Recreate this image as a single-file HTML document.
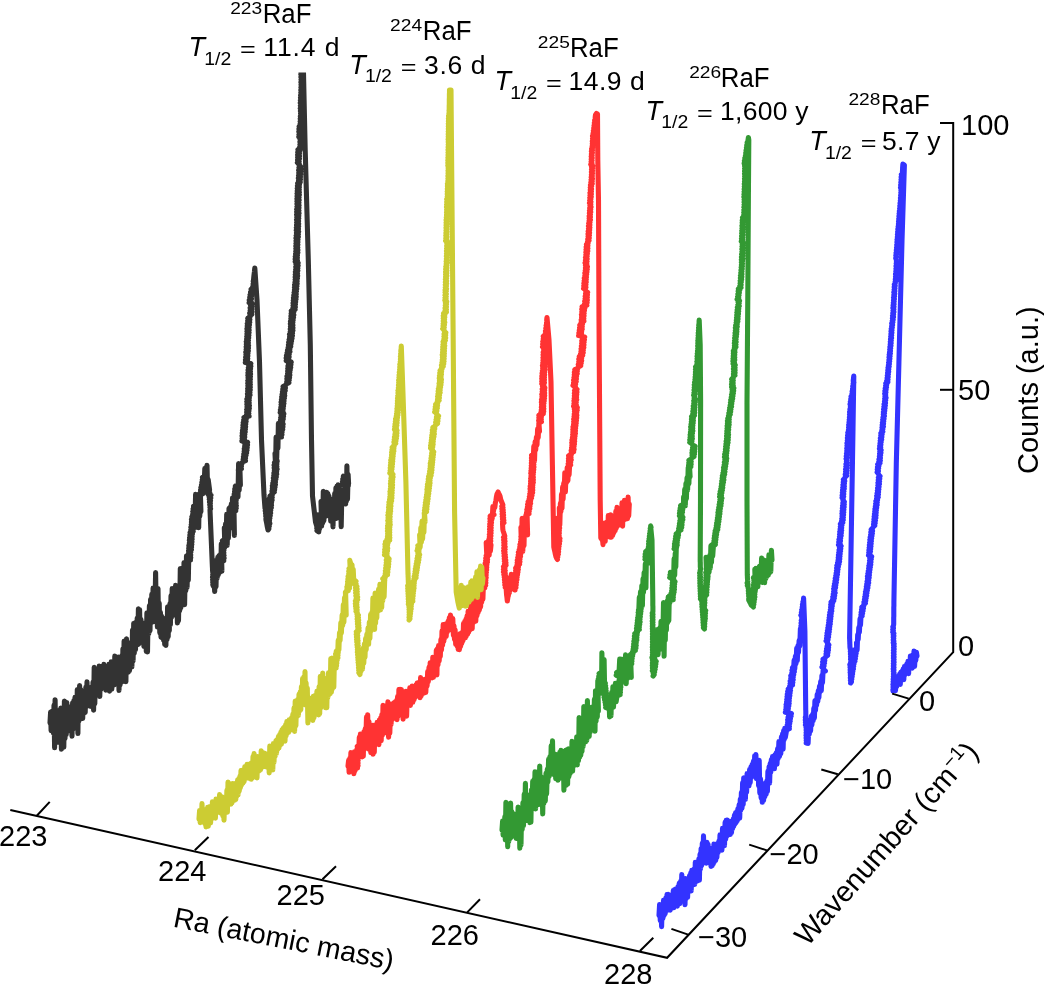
<!DOCTYPE html>
<html><head><meta charset="utf-8"><title>RaF spectra</title>
<style>html,body{margin:0;padding:0;background:#fff;width:1044px;height:984px;overflow:hidden}svg{display:block}</style>
</head><body>
<svg width="1044" height="984" viewBox="0 0 1044 984" font-family="'Liberation Sans', Arial, Helvetica, sans-serif" fill="#000">
<defs><clipPath id="clipTop"><rect x="0" y="72.6" width="1044" height="912"/></clipPath></defs>
<rect width="1044" height="984" fill="#fff"/>
<polyline points="50.0,723.0 50.6,712.2 51.1,730.6 51.7,711.5 52.3,730.0 52.9,711.0 53.4,733.1 54.0,705.3 54.6,747.6 55.1,699.8 55.7,742.0 56.2,712.2 56.8,739.7 57.4,710.6 57.9,742.2 58.5,715.3 59.1,739.8 59.7,718.4 60.2,742.7 60.8,708.0 61.4,749.3 62.0,720.7 62.6,745.3 63.2,714.6 63.8,747.2 64.4,701.0 65.0,738.5 65.6,711.8 66.2,734.7 66.8,702.5 67.3,731.4 67.9,711.1 68.5,724.5 69.1,711.2 69.7,726.1 70.2,706.7 70.8,728.4 71.4,706.7 72.0,736.1 72.6,702.8 73.2,729.0 73.8,700.7 74.4,725.0 75.0,697.2 75.6,721.2 76.2,697.2 76.7,721.1 77.3,689.6 77.9,733.4 78.4,690.2 79.0,720.9 79.6,685.5 80.2,719.0 80.8,689.5 81.5,716.1 82.1,694.6 82.7,718.5 83.3,693.9 83.9,713.2 84.5,692.3 85.2,712.5 85.8,687.4 86.4,706.4 87.0,681.9 87.6,702.2 88.2,687.8 88.8,705.2 89.3,687.7 89.9,706.2 90.5,689.6 91.1,706.5 91.7,687.0 92.3,705.2 93.0,682.2 93.6,710.1 94.2,667.2 94.8,703.7 95.4,673.5 96.0,695.1 96.7,670.7 97.3,691.7 97.9,671.1 98.5,694.3 99.2,666.1 99.8,696.5 100.4,668.3 101.0,689.2 101.5,668.2 102.1,685.2 102.7,666.1 103.3,681.7 103.9,664.3 104.5,683.4 105.2,668.4 105.8,690.2 106.4,667.9 107.0,686.1 107.7,669.8 108.3,688.1 108.9,664.3 109.5,691.1 110.0,670.6 110.6,688.8 111.2,661.7 111.8,689.1 112.4,670.4 113.0,684.3 113.6,664.9 114.2,685.0 114.8,656.0 115.4,683.1 116.0,660.5 116.6,683.1 117.2,662.7 117.8,682.0 118.4,657.0 119.0,690.4 119.6,657.9 120.1,685.0 120.7,657.8 121.2,678.1 121.8,655.8 122.4,681.6 122.9,648.8 123.5,673.2 124.1,641.0 124.7,671.4 125.3,648.0 125.9,681.6 126.5,638.8 127.1,669.1 127.7,647.7 128.3,672.2 128.9,645.0 129.5,670.8 130.1,642.9 130.7,667.3 131.3,644.7 131.9,666.9 132.5,630.0 133.1,660.9 133.7,623.3 134.3,653.2 134.9,622.7 135.5,649.6 136.1,622.4 136.7,645.0 137.2,618.0 137.8,644.8 138.4,608.9 139.0,643.6 139.6,609.6 140.2,642.2 140.9,619.2 141.5,642.1 142.1,623.2 142.7,640.9 143.3,623.0 143.9,646.5 144.5,625.6 145.1,643.7 145.7,625.0 146.3,651.5 146.9,612.8 147.5,652.0 148.1,613.0 148.8,633.7 149.4,605.7 150.0,630.8 150.6,599.2 151.2,622.6 151.8,594.4 152.4,618.6 153.1,588.1 153.7,621.6 154.3,591.1 154.9,614.4 155.6,572.5 156.2,613.1 156.8,589.9 157.4,627.0 158.0,588.6 158.6,626.3 159.2,603.1 159.8,632.7 160.4,612.3 161.0,637.1 161.6,616.0 162.2,638.0 162.9,620.9 163.5,640.2 164.1,620.2 164.7,644.4 165.3,619.2 165.9,645.4 166.4,617.5 167.0,639.6 167.6,606.9 168.2,636.7 168.7,608.3 169.3,630.7 169.9,603.8 170.4,624.7 171.0,595.7 171.6,617.1 172.2,588.6 172.7,615.7 173.3,592.9 173.9,609.3 174.5,589.3 175.0,607.9 175.6,585.3 176.2,611.1 176.8,589.2 177.4,623.0 178.0,587.3 178.5,620.7 179.1,586.5 179.7,610.8 180.3,568.5 180.9,607.8 181.5,579.6 182.1,600.6 182.8,572.4 183.4,603.0 184.0,562.6 184.6,604.8 185.2,569.8 185.8,590.7 186.5,555.9 187.1,587.4 187.7,559.2 188.3,580.2 189.0,544.8 190.5,560.0 188.0,558.7 190.7,557.4 188.0,556.1 190.7,554.8 188.5,553.4 190.8,552.1 188.6,550.8 191.4,549.5 188.8,548.2 191.5,546.9 188.9,545.6 191.8,544.3 189.4,543.0 191.9,541.7 189.4,540.3 192.1,539.0 189.6,537.7 192.1,536.4 189.9,535.1 192.4,533.8 190.1,532.5 193.2,531.2 190.8,529.9 193.4,528.6 190.9,527.2 193.4,525.9 191.3,524.6 193.7,523.3 191.5,522.0 194.2,520.7 191.5,519.4 194.2,518.1 191.9,516.8 195.0,515.5 192.7,514.2 195.2,512.8 192.8,511.5 195.4,510.2 193.1,508.9 196.0,507.6 193.5,506.3 195.0,520.4 195.6,494.4 196.2,527.1 196.8,496.8 197.5,524.7 198.1,496.8 198.7,527.6 199.3,493.9 199.8,516.3 200.4,494.1 200.9,511.6 200.2,495.0 202.8,493.7 200.3,492.5 203.2,491.2 200.6,489.9 203.2,488.7 200.9,487.4 203.9,486.1 201.5,484.9 204.0,483.6 201.9,482.3 204.4,481.1 202.3,479.8 204.9,478.5 202.4,477.3 204.2,483.9 204.8,468.5 205.3,484.7 205.9,467.9 206.4,492.3 207.0,465.2 207.6,490.5 208.2,479.5 209.6,490.0 207.7,491.3 209.7,492.7 207.9,494.0 211.0,495.3 209.1,496.7 210.7,498.0 209.3,499.3 210.5,500.7 209.5,502.0 210.4,503.3 209.7,504.7 210.4,506.0 209.9,507.3 210.6,508.7 210.0,510.0 212.4,567.0 212.5,568.3 212.5,569.5 212.6,570.8 212.7,572.1 213.4,573.3 212.7,574.6 213.5,575.9 212.5,577.1 213.3,578.4 212.6,579.7 213.4,580.9 212.7,582.2 213.4,583.5 212.8,584.7 213.3,586.0 214.0,581.1 214.7,591.5 215.3,567.0 216.0,586.8 216.6,560.2 217.2,578.2 217.8,557.4 218.4,574.6 219.0,555.7 219.6,572.3 220.2,554.7 220.8,571.6 221.3,543.9 221.9,571.1 221.0,562.0 223.7,560.7 221.4,559.3 224.1,558.0 221.3,556.7 224.0,555.3 221.2,554.0 223.8,552.7 221.5,551.3 223.9,550.0 221.6,548.7 224.4,547.3 221.7,546.0 224.5,544.7 222.1,543.3 224.8,542.0 222.4,540.7 225.0,539.3 224.3,527.7 224.9,547.1 225.5,524.0 226.1,541.2 226.7,514.4 227.2,545.4 227.8,514.9 228.4,538.2 229.0,508.2 229.6,527.7 230.2,507.2 230.8,526.8 231.3,504.1 231.9,527.9 232.5,497.7 233.1,527.7 233.8,498.1 234.4,535.5 233.2,512.0 235.7,510.7 233.5,509.4 236.2,508.1 233.6,506.9 236.3,505.6 233.8,504.3 236.1,503.0 233.4,501.7 236.1,500.4 234.0,499.1 236.8,497.9 234.3,496.6 236.9,495.3 234.2,494.0 237.2,492.7 234.6,491.4 237.3,490.1 234.8,488.9 237.5,487.6 235.3,486.3 238.0,497.0 238.6,463.5 239.2,490.1 239.8,464.7 240.4,485.3 238.3,470.0 241.4,468.7 238.7,467.3 241.4,466.0 239.2,464.7 242.1,463.3 242.5,462.0 245.5,460.7 243.2,459.3 245.5,458.0 243.5,456.7 246.0,455.3 243.8,454.0 246.6,452.7 244.2,451.3 247.0,450.0 244.3,448.7 247.2,447.4 244.7,446.1 247.5,444.8 244.8,443.5 247.6,442.2 241.9,440.9 244.5,439.6 242.2,438.3 244.7,437.0 242.1,435.7 244.8,434.3 242.3,433.0 245.2,431.7 242.5,430.4 245.4,429.1 242.9,427.8 245.6,426.5 243.0,425.2 245.7,423.9 243.2,422.6 246.1,421.3 243.7,420.0 246.2,418.7 244.0,417.4 249.1,416.1 246.5,414.7 248.8,413.4 246.7,412.1 248.9,410.8 246.7,409.5 249.3,408.2 247.0,406.9 249.4,405.5 246.9,404.2 249.2,402.9 246.8,401.6 249.2,400.3 246.9,399.0 249.3,397.7 247.6,396.3 250.0,395.0 247.5,393.7 249.9,392.4 247.7,391.1 250.2,389.8 247.7,388.5 250.3,387.1 247.9,385.8 250.3,384.5 247.8,383.2 250.2,381.9 247.8,380.6 250.3,379.3 248.1,377.9 250.4,376.6 247.9,375.3 250.5,374.0 248.0,372.7 250.4,371.4 248.1,370.1 250.5,368.8 248.4,367.5 250.8,366.2 248.6,364.9 250.8,363.6 245.3,362.4 247.6,361.1 245.5,359.8 247.7,358.5 245.7,357.2 247.8,355.9 246.0,354.6 247.9,353.3 245.8,352.0 248.3,350.7 246.2,349.4 248.4,348.1 246.2,346.8 248.5,345.5 246.4,344.2 248.3,342.9 246.3,341.6 248.4,340.4 246.7,339.1 248.6,337.8 246.8,336.5 248.8,335.2 247.0,333.9 249.0,332.6 247.0,331.3 249.1,330.0 247.0,328.7 249.1,327.4 247.3,326.1 249.4,324.8 247.3,323.5 249.7,322.2 247.7,320.9 249.8,319.6 247.8,318.3 250.0,317.0 249.8,315.7 251.8,314.3 249.7,313.0 252.0,311.7 250.2,310.4 251.9,309.1 250.2,307.8 252.0,306.5 250.6,305.2 252.4,303.9 249.1,302.6 251.1,301.3 249.3,300.0 251.4,298.7 249.8,297.3 251.5,296.0 250.1,294.7 251.9,293.3 250.6,292.0 252.2,290.7 251.1,289.3 252.4,288.0 252.7,286.7 254.0,285.3 253.1,284.0 254.1,282.7 253.2,281.3 253.5,280.4 253.9,276.0 254.4,272.0 254.8,268.0 257.0,300.0 259.5,362.0 261.5,440.0 264.0,495.0 264.1,496.3 264.2,497.6 264.3,498.9 264.4,500.3 264.5,501.6 264.6,502.9 264.7,504.2 264.8,505.5 264.9,506.8 265.0,508.2 265.8,509.5 265.2,510.8 266.1,512.1 265.5,513.4 266.3,514.7 265.7,516.1 266.5,517.4 265.9,518.7 266.0,520.0 266.7,523.3 267.3,526.7 268.0,530.0 268.9,528.7 268.3,527.4 269.3,526.1 268.5,524.7 269.8,523.4 268.7,522.1 269.5,520.8 268.2,519.5 269.8,518.2 268.3,516.8 270.2,515.5 268.2,514.2 270.6,512.9 268.3,511.6 270.7,510.3 268.6,508.9 271.3,507.6 268.8,506.3 271.5,505.0 268.9,503.7 271.5,502.4 269.3,501.1 272.1,499.9 269.3,498.6 272.2,497.3 270.0,496.0 272.3,494.7 271.9,493.4 274.3,492.1 272.0,490.9 274.6,489.6 272.4,488.3 275.0,487.0 272.4,485.7 275.4,484.4 272.8,483.1 275.4,481.9 273.4,480.6 275.8,479.3 273.4,478.0 276.3,476.7 273.8,475.4 276.7,474.1 273.9,472.9 276.6,471.6 274.4,470.3 277.1,469.0 274.2,467.7 276.8,466.4 274.1,465.1 276.8,463.9 274.5,462.6 277.2,461.3 275.0,453.4 275.6,466.3 276.1,437.1 276.7,458.0 277.3,437.3 277.9,448.2 278.4,423.2 281.5,437.0 279.0,435.7 281.9,434.4 279.4,433.1 282.1,431.8 279.6,430.5 282.7,429.2 279.9,427.9 282.9,426.6 280.6,425.3 283.1,424.0 279.8,422.7 282.6,421.4 280.5,420.1 283.2,418.9 280.7,417.6 283.5,416.3 281.1,415.0 283.8,413.7 280.2,412.4 283.0,411.1 280.4,409.8 283.2,408.5 280.9,407.2 283.5,405.9 281.1,404.6 283.9,403.3 281.1,402.0 284.0,400.7 281.5,399.4 284.4,398.1 281.7,396.8 284.7,395.5 282.1,394.3 284.6,393.0 282.5,391.7 285.2,390.4 282.8,389.1 285.4,387.8 283.1,386.5 285.7,385.2 286.3,383.9 288.9,382.6 286.8,381.4 289.2,380.1 286.9,378.8 289.5,377.5 287.0,376.2 289.8,374.9 287.6,373.6 289.8,372.3 287.7,371.0 290.2,369.7 287.8,368.5 290.7,367.2 288.0,365.9 290.9,364.6 288.5,363.3 291.2,362.0 286.2,360.7 288.8,359.4 286.2,358.0 289.1,356.7 286.5,355.4 289.2,354.1 287.1,352.8 289.9,351.4 287.5,350.1 289.9,348.8 288.2,347.5 290.7,346.2 288.5,344.8 291.0,343.5 288.7,342.2 291.5,340.9 289.1,339.6 292.0,338.2 289.6,336.9 292.4,335.6 289.5,334.3 292.5,333.0 290.3,331.6 292.9,330.3 290.3,329.0 292.9,327.7 290.5,326.4 292.9,325.1 290.4,323.8 292.8,322.5 290.5,321.2 293.1,319.9 290.9,318.6 293.5,317.3 291.0,316.0 293.8,314.7 291.2,313.4 293.7,312.1 291.3,310.8 295.1,309.5 292.9,308.2 295.3,306.9 293.1,305.6 295.4,304.3 293.1,303.0 295.6,301.7 293.3,300.4 296.0,299.1 293.5,297.8 296.2,296.5 293.8,295.2 296.2,293.9 294.1,292.6 296.4,291.3 294.5,290.0 296.7,288.7 294.5,287.4 296.9,286.1 294.6,284.8 297.1,283.5 295.0,282.3 297.1,281.0 295.2,279.7 297.4,278.4 295.2,277.1 297.6,275.8 295.3,274.5 297.5,273.2 295.4,271.9 297.8,270.6 295.7,269.4 297.8,268.1 295.8,266.8 298.1,265.5 296.0,264.2 298.1,262.9 295.2,261.6 297.4,260.3 295.2,259.0 297.3,257.7 295.3,256.5 297.4,255.2 295.6,253.9 297.8,252.6 295.8,251.3 297.8,250.0 295.9,248.7 297.7,247.4 295.9,246.1 297.8,244.7 296.0,243.4 297.8,242.1 296.1,240.8 297.9,239.5 296.0,238.2 298.3,236.8 296.2,235.5 298.3,234.2 296.5,232.9 298.6,231.6 296.3,230.3 298.4,228.9 296.4,227.6 298.6,226.3 296.6,225.0 298.6,223.7 296.7,222.4 298.5,221.1 296.6,219.7 298.7,218.4 296.8,217.1 298.7,215.8 296.6,214.5 299.0,213.2 296.7,211.8 298.9,210.5 296.7,209.2 298.9,207.9 297.0,206.6 299.0,205.3 297.0,203.9 298.9,202.6 297.0,201.3 299.1,200.0 297.0,198.7 299.0,197.4 297.1,196.1 299.3,194.8 297.1,193.5 299.3,192.3 297.3,191.0 299.2,189.7 297.3,188.4 299.3,187.1 297.5,185.8 299.4,184.5 297.7,183.2 300.2,181.9 298.6,180.6 300.4,179.4 298.4,178.1 300.4,176.8 298.6,175.5 300.6,174.2 298.8,172.9 300.6,171.6 298.7,170.3 300.8,169.0 299.0,167.7 300.6,166.5 299.0,165.2 299.3,163.9 297.4,162.6 299.1,161.3 297.6,160.0 299.4,158.7 297.7,157.4 299.4,156.1 297.7,154.8 299.4,153.5 297.8,152.3 299.6,151.0 298.0,149.7 301.6,148.4 299.7,147.1 301.5,145.8 300.0,144.5 301.7,143.2 300.0,141.9 301.7,140.6 300.1,139.4 301.9,138.1 298.8,136.8 300.4,135.5 299.0,134.2 300.6,132.9 298.9,131.6 300.7,130.3 299.0,129.0 300.9,127.7 299.2,126.5 301.8,125.2 300.2,123.9 301.7,122.6 300.2,121.3 301.8,120.0 300.3,118.7 301.9,117.4 300.4,116.1 301.7,114.8 300.6,113.5 301.8,112.2 300.5,110.9 301.8,109.6 300.3,108.3 301.5,107.0 300.4,105.7 301.5,104.3 300.3,103.0 301.4,101.7 300.4,100.4 301.6,99.1 300.5,97.8 301.5,96.5 300.6,95.2 301.6,93.9 300.8,92.6 301.6,91.3 300.8,90.0 301.6,88.7 300.9,87.4 301.6,86.1 301.0,84.8 301.7,83.5 300.9,82.2 301.7,80.9 301.0,79.6 301.7,78.3 300.9,77.0 301.5,75.7 300.8,74.3 301.6,73.0 300.9,71.7 301.6,70.4 301.0,69.1 301.7,67.8 301.0,66.5 301.5,65.2 301.6,63.9 301.6,62.6 301.6,61.3 301.6,60.0 303.2,60.0 305.2,150.0 308.3,260.0 310.3,345.0 311.5,440.0 312.5,496.0 315.5,522.0 316.1,524.0 316.7,525.9 317.3,529.0 317.9,514.8 318.8,532.0 317.0,530.7 319.3,529.4 316.8,528.1 319.8,526.8 317.4,525.5 320.3,524.2 317.8,522.8 320.3,521.5 318.1,520.2 323.7,518.9 321.1,517.6 323.9,516.3 321.0,501.5 321.6,526.3 322.1,503.3 322.7,523.0 323.3,491.3 323.9,520.8 324.4,495.6 325.0,516.0 325.6,493.6 326.1,516.2 326.7,492.4 327.3,513.5 327.9,493.5 328.5,514.0 329.0,496.1 329.6,515.7 330.2,499.8 330.7,521.3 331.3,499.4 331.9,516.4 332.4,501.0 333.0,526.9 333.6,500.4 334.1,519.2 334.7,493.6 335.3,518.4 335.9,487.7 336.4,518.5 337.0,486.1 337.6,512.7 338.2,484.7 338.8,516.3 339.4,487.5 340.0,516.4 340.6,493.3 341.2,526.7 341.9,490.4 345.6,504.0 343.2,502.7 345.9,501.4 343.6,500.0 346.5,498.7 344.1,497.4 346.5,496.1 344.3,494.8 347.2,493.5 344.5,492.1 347.2,490.8 344.9,489.5 347.7,488.2 345.3,486.9 348.3,485.5 342.1,484.2 344.7,482.9 342.5,481.6 345.1,480.3 342.8,479.0 345.4,477.6 343.3,476.3 346.4,501.3 346.9,465.7 347.5,499.2 348.1,474.4 348.6,484.0" fill="none" stroke="#333333" stroke-width="5.1" stroke-linejoin="round" stroke-linecap="round" clip-path="url(#clipTop)"/>
<polyline points="348.0,766.0 348.6,760.4 349.1,772.3 349.7,758.5 350.3,769.5 350.9,752.6 351.4,769.1 352.0,755.2 352.6,770.7 353.3,756.0 353.9,773.8 354.5,751.9 355.1,770.7 355.8,758.3 357.5,768.0 355.3,766.7 358.0,765.4 355.3,764.2 358.0,762.9 355.6,761.6 358.1,760.3 356.0,759.1 358.4,757.8 356.3,756.5 358.7,755.2 356.2,753.9 359.2,752.7 356.6,751.4 359.3,750.1 357.1,748.8 359.8,747.6 357.2,746.3 358.7,751.6 359.3,737.3 359.9,753.3 360.4,734.1 361.0,753.3 361.6,741.2 362.1,757.0 362.7,741.7 363.3,756.3 363.9,731.9 364.6,745.4 365.2,728.9 365.8,740.6 366.5,717.1 367.1,732.6 367.7,714.7 368.3,748.9 369.0,721.6 369.6,748.1 370.2,727.1 370.8,752.8 371.4,726.9 372.0,748.4 372.6,725.2 373.1,754.2 373.7,726.4 374.3,752.2 374.9,725.1 375.5,740.0 376.1,725.1 376.6,740.0 377.2,722.2 377.8,739.0 378.3,723.1 378.9,744.6 379.4,719.9 380.0,734.8 380.6,718.1 381.2,740.6 381.8,714.9 382.4,735.1 383.0,705.3 383.6,733.3 384.2,710.0 384.8,732.0 385.4,708.8 386.0,732.6 386.7,705.5 387.3,729.1 387.9,701.8 388.6,737.1 389.2,711.8 389.8,733.3 390.5,708.6 391.1,724.4 391.7,704.1 392.4,719.5 393.0,705.8 393.6,715.0 394.1,702.7 394.7,716.6 395.3,701.7 395.9,712.9 396.5,700.6 397.0,719.7 397.6,696.5 398.2,716.2 398.9,689.6 399.5,711.3 400.1,689.3 400.8,709.4 401.4,689.5 402.0,712.8 402.5,691.5 403.1,719.2 403.7,694.1 404.3,711.8 404.9,694.7 405.4,710.2 406.0,691.2 406.6,716.2 407.3,693.8 407.9,704.6 408.5,691.3 409.2,702.3 409.8,687.8 410.4,705.4 411.0,689.0 411.6,702.3 412.2,686.0 412.8,702.3 413.4,690.5 414.1,699.7 414.7,687.2 415.3,697.1 416.0,684.9 416.6,693.9 417.2,683.1 417.8,693.7 418.3,682.6 418.9,695.3 419.5,682.7 420.1,697.8 420.6,677.5 421.2,695.8 421.8,683.1 422.4,692.6 422.9,680.8 423.5,693.3 424.1,679.5 424.6,692.0 425.2,679.6 425.8,692.4 426.4,678.7 427.1,685.9 427.7,671.6 428.3,681.5 429.0,667.3 429.6,675.1 430.2,662.7 430.9,676.1 431.5,662.4 432.1,678.0 432.8,657.2 433.4,677.3 434.0,659.7 434.5,673.7 435.1,658.9 435.7,673.1 436.3,650.3 436.9,675.0 437.4,648.6 438.0,664.8 438.6,645.6 439.2,660.8 439.7,645.2 440.3,656.5 440.9,639.6 441.5,650.0 442.0,631.1 442.6,645.3 443.2,624.6 443.8,641.3 444.4,625.3 445.0,637.6 445.6,624.0 446.2,636.4 446.9,623.5 447.5,631.6 448.1,621.2 448.7,630.1 449.3,617.8 449.9,627.9 450.5,615.1 451.1,627.3 451.6,617.5 452.2,630.2 452.8,618.5 453.4,635.4 454.0,625.9 454.5,639.5 455.1,629.7 455.7,644.3 456.3,634.4 457.0,645.9 457.6,637.5 458.2,649.4 458.8,639.5 459.4,649.6 460.0,633.7 460.6,646.4 461.2,633.2 461.8,643.3 462.4,632.2 463.0,640.7 463.5,623.5 464.1,638.0 464.7,621.6 465.3,637.8 465.9,619.3 466.4,635.9 467.0,616.0 467.6,634.3 468.1,611.2 468.7,632.2 469.3,611.1 469.9,629.9 470.5,605.2 471.0,625.7 471.6,605.3 472.2,628.7 472.8,604.4 473.4,622.4 474.0,601.3 474.6,620.1 475.2,592.9 475.8,621.3 476.4,600.3 477.0,615.6 477.6,599.3 478.2,612.4 478.8,595.7 479.4,609.9 480.0,595.4 480.6,606.8 481.2,592.0 481.7,602.2 482.3,588.0 482.9,599.2 483.4,584.0 484.7,588.0 483.7,586.7 485.6,585.4 483.9,584.1 485.8,582.8 484.1,581.5 485.8,580.2 484.3,578.9 486.1,577.6 484.5,576.3 486.1,575.0 484.8,573.7 486.3,572.4 484.7,571.1 486.6,569.9 484.9,568.6 486.7,567.3 485.2,566.0 486.8,564.7 485.2,563.4 487.4,562.1 485.7,560.8 487.5,559.5 485.8,558.2 487.5,556.9 486.2,555.6 487.6,554.3 486.2,542.6 486.8,555.6 487.4,544.3 488.0,553.4 488.6,540.1 489.2,555.3 489.8,534.9 490.4,550.9 491.0,545.0 490.6,543.7 489.1,542.4 490.7,541.0 489.3,539.7 490.7,538.4 489.4,537.1 490.9,535.8 489.4,534.4 491.0,533.1 489.7,531.8 491.1,530.5 489.6,529.2 491.1,527.8 489.7,526.5 491.2,525.2 489.8,523.9 491.4,522.6 490.0,521.2 491.6,519.9 490.0,518.6 491.5,517.3 490.2,516.0 494.0,514.6 492.4,513.3 492.2,518.6 492.9,506.5 493.5,511.1 494.1,506.5 494.8,507.5 495.4,502.4 495.9,500.7 496.4,496.9 497.0,494.0 497.6,493.0 498.1,492.0 498.7,493.3 499.4,494.7 500.0,496.0 500.8,499.7 502.9,505.0 501.8,506.3 503.0,507.5 501.9,508.8 503.2,510.1 502.1,511.3 503.4,512.6 502.2,513.9 503.5,515.1 502.3,516.4 503.6,517.7 502.5,518.9 503.8,520.2 502.6,521.5 503.9,522.7 502.5,522.9 502.8,529.1 503.1,530.8 504.8,536.0 503.5,537.3 504.8,538.7 503.7,540.0 505.0,541.3 503.8,542.7 504.9,544.0 503.8,545.3 505.1,546.7 503.8,548.0 505.1,549.3 503.7,550.7 505.0,552.0 503.9,553.3 505.3,554.7 504.1,556.0 505.5,557.3 504.3,558.7 505.7,560.0 504.4,561.3 505.9,562.7 504.5,564.0 506.0,565.3 503.5,566.7 504.9,568.0 503.5,569.3 505.2,570.7 503.5,572.0 505.2,573.3 503.9,574.6 505.6,575.9 504.3,577.1 505.6,578.4 504.5,579.7 506.0,581.0 504.7,582.3 506.2,583.6 504.9,584.9 506.4,586.1 505.3,587.4 507.0,588.7 506.2,589.1 506.6,595.0 506.9,597.1 507.3,601.0 507.9,597.1 508.4,595.5 509.0,579.2 509.5,592.7 510.1,577.7 510.6,584.9 511.3,574.4 511.9,588.2 512.6,580.6 515.0,590.0 512.9,588.7 515.9,587.4 513.3,586.1 516.2,584.8 513.6,583.5 516.4,582.2 514.0,580.9 516.9,579.6 514.3,578.4 517.1,577.1 514.8,575.8 517.5,574.5 515.2,573.2 517.9,571.9 515.7,570.6 518.3,569.3 515.7,568.0 518.4,566.7 516.9,565.4 519.6,564.1 517.2,562.8 519.9,561.5 517.3,560.2 520.0,558.8 517.8,557.5 520.5,556.2 518.2,554.9 520.8,553.6 518.4,552.3 521.8,551.0 519.2,549.7 521.9,548.4 519.8,547.1 522.6,545.8 520.0,544.5 522.7,543.2 520.6,541.8 523.3,540.5 520.9,539.2 523.3,537.9 520.9,536.6 521.4,535.3 520.9,527.3 521.5,547.7 522.1,518.3 522.8,551.4 523.4,521.3 524.0,545.6 524.6,518.9 525.2,534.8 525.8,515.4 526.4,529.5 527.0,511.5 527.6,534.9 526.0,515.0 529.0,513.7 526.6,512.4 529.2,511.1 526.9,509.7 529.8,508.4 527.4,507.1 530.0,505.8 527.6,504.5 530.6,503.2 528.1,501.8 530.6,500.5 529.1,499.2 531.5,497.9 529.4,496.6 532.0,495.3 529.8,493.9 532.6,492.6 530.2,491.3 532.7,490.0 530.1,488.7 532.7,487.4 530.2,486.1 532.8,484.9 530.6,483.6 533.3,482.3 530.6,481.0 533.3,479.7 530.7,478.4 533.3,477.1 531.0,475.9 533.2,474.6 530.8,473.3 533.5,472.0 531.0,470.7 533.7,469.4 531.2,468.1 533.9,466.9 531.3,465.6 533.8,464.3 531.4,463.0 533.9,461.7 531.5,460.4 534.1,459.1 531.5,457.9 534.4,456.6 531.5,455.3 533.2,460.9 533.8,446.3 534.5,461.2 535.1,441.8 535.7,449.8 536.4,437.2 537.0,444.9 537.6,429.1 538.2,437.7 538.9,422.9 539.5,431.3 538.8,423.0 541.4,421.7 538.7,420.4 541.3,419.1 538.9,417.8 541.4,416.5 538.9,415.2 543.3,413.8 540.9,412.5 543.7,411.2 541.3,409.9 543.8,408.6 541.4,407.3 543.7,406.0 541.6,404.7 543.9,403.4 541.4,402.1 544.2,400.8 541.5,399.5 544.5,398.2 542.0,396.8 544.6,395.5 541.8,394.2 544.6,392.9 542.2,391.6 544.6,390.3 542.2,389.0 544.8,387.7 542.5,386.4 543.9,385.1 541.8,383.8 544.4,382.5 541.8,381.2 544.4,379.8 541.8,378.5 544.4,377.2 541.9,375.9 544.6,374.6 542.1,373.3 544.7,372.0 542.4,370.7 545.1,369.4 542.7,368.0 545.1,366.7 542.5,365.4 545.4,364.1 542.8,362.8 545.5,361.4 543.0,360.1 545.7,358.8 543.0,357.5 545.5,356.1 543.1,354.8 545.8,353.5 543.2,352.2 546.2,350.9 543.7,349.5 544.5,348.2 542.5,346.9 544.8,345.6 542.7,344.2 544.9,342.9 542.8,341.6 545.2,340.3 543.3,339.0 545.1,337.6 543.3,336.3 546.9,335.0 545.2,333.7 547.0,332.3 545.5,331.0 546.9,329.6 545.8,328.3 547.0,326.9 546.1,325.6 546.9,324.2 546.5,322.9 547.2,321.5 546.7,320.2 546.8,318.8 547.0,317.5 549.0,340.0 551.0,382.0 552.4,465.0 553.8,547.0 554.3,549.5 554.9,552.0 555.4,554.5 556.0,556.9 557.4,559.5 556.6,558.2 557.8,556.9 556.8,555.5 558.3,554.2 557.1,552.9 558.5,551.6 557.0,550.3 558.7,549.0 557.1,547.6 559.0,546.3 557.4,545.0 559.4,543.7 557.3,542.4 559.8,541.0 557.5,539.7 559.9,538.4 557.5,537.1 559.1,535.8 556.4,534.5 559.3,533.1 556.8,531.8 559.3,530.5 556.8,529.2 559.6,527.9 557.2,526.5 559.0,525.2 556.5,523.9 559.3,522.6 556.5,521.3 559.3,520.0 556.8,518.6 559.5,517.3 559.3,507.7 559.8,525.2 560.4,503.4 560.9,511.6 561.5,494.3 562.0,508.1 562.6,487.1 563.1,499.2 563.7,483.4 564.2,491.9 564.8,472.7 565.4,492.0 566.0,473.1 566.6,482.4 567.2,467.6 567.9,480.7 568.5,465.6 569.1,474.9 569.7,463.7 570.6,465.0 568.2,463.7 570.6,462.4 568.5,461.0 571.2,459.7 568.5,458.4 571.0,457.1 568.6,455.8 571.4,454.4 571.1,453.1 573.6,451.8 571.2,450.5 574.1,449.2 571.6,447.8 574.0,446.5 571.9,445.2 574.4,443.9 571.8,442.6 574.6,441.2 572.0,439.9 574.7,438.6 572.5,437.3 575.0,436.0 572.7,434.6 575.4,433.3 572.9,432.0 575.4,430.7 572.9,429.4 575.6,428.1 573.0,426.8 575.9,425.5 573.6,424.2 576.2,422.9 573.7,421.6 576.4,420.4 573.7,419.1 576.7,417.8 574.1,416.5 576.8,415.2 574.3,413.9 576.7,412.6 574.5,411.3 577.2,410.0 574.3,408.7 577.3,407.4 573.6,406.1 576.3,404.8 574.0,403.5 576.2,402.2 574.0,400.9 576.7,399.6 574.2,398.4 576.5,397.1 574.4,395.8 576.7,394.5 574.4,393.2 576.9,391.9 574.5,390.6 577.0,389.3 575.0,388.0 575.4,386.7 573.0,385.4 575.6,384.1 573.6,382.8 576.2,381.4 573.6,380.1 576.4,378.8 574.0,377.5 576.5,376.2 574.3,374.9 577.2,373.6 574.4,372.2 577.3,370.9 574.8,369.6 577.9,368.3 578.3,367.0 580.7,365.7 578.3,364.4 581.2,363.1 578.8,361.8 581.6,360.4 578.8,359.1 581.7,357.8 579.3,356.5 582.7,355.2 580.6,353.9 583.2,352.6 581.0,351.3 583.3,350.0 581.1,348.7 583.8,347.3 581.4,346.0 583.9,344.7 581.7,343.4 584.1,342.1 581.8,340.8 584.4,339.5 582.4,338.2 584.7,336.9 578.6,335.6 581.6,334.2 578.9,332.9 581.6,331.6 579.3,330.3 582.2,329.0 579.6,327.7 582.2,326.4 579.8,325.0 582.5,323.7 581.1,322.4 583.9,321.1 581.2,319.8 583.8,318.5 581.6,317.1 584.0,315.8 581.5,314.5 584.1,313.2 581.8,311.9 584.4,310.5 581.8,309.2 584.8,307.9 582.1,306.6 586.9,305.3 584.5,304.0 587.1,302.6 584.7,301.3 587.3,300.0 585.1,298.7 587.3,297.4 585.2,296.2 587.4,294.9 585.6,293.6 587.6,292.3 585.7,291.0 585.5,289.8 583.6,288.5 585.9,287.2 583.8,285.9 585.9,284.6 583.9,283.4 586.2,282.1 584.2,280.8 586.2,279.5 584.3,278.2 586.4,277.0 584.9,275.7 586.6,274.4 584.9,273.1 586.9,271.8 585.3,270.6 587.2,269.3 585.5,268.0 587.4,266.7 585.5,265.4 586.8,264.1 585.1,262.8 587.0,261.4 585.5,260.1 587.1,258.8 585.5,257.5 587.1,256.2 585.9,254.9 587.3,253.6 585.9,252.3 587.7,251.0 586.1,249.7 587.8,248.3 586.2,247.0 587.8,245.7 586.5,244.4 588.1,243.1 587.5,241.8 589.0,240.5 587.8,239.2 589.2,237.9 588.1,236.6 589.4,235.2 588.1,233.9 589.5,232.6 588.2,231.3 589.6,230.0 588.5,228.7 589.8,227.4 588.5,226.1 589.8,224.9 588.7,223.6 590.0,222.3 589.1,221.0 590.4,219.7 589.2,218.4 590.4,217.1 589.2,215.9 590.4,214.6 589.4,213.3 590.7,212.0 589.5,210.7 590.7,209.4 589.7,208.1 591.0,206.9 589.9,205.6 590.8,204.3 589.5,203.0 590.9,201.7 589.7,200.4 590.9,199.1 589.8,197.9 591.2,196.6 590.0,195.3 591.3,194.0 590.0,192.7 591.4,191.4 590.3,190.1 591.5,188.9 590.3,187.6 591.6,186.3 590.5,185.0 592.2,183.7 590.9,182.4 592.2,181.1 591.1,179.8 592.4,178.6 591.2,177.3 592.3,176.0 591.4,174.7 592.5,173.4 591.4,172.1 592.5,170.8 591.5,169.5 592.6,168.2 591.5,166.9 592.7,165.7 590.8,164.4 592.0,163.1 591.1,161.8 592.1,160.5 591.2,159.2 592.2,157.9 591.2,156.6 592.2,155.3 591.4,154.1 592.4,152.8 591.4,151.5 592.5,150.2 591.6,148.9 592.6,147.6 592.1,146.3 593.2,145.0 592.3,143.7 593.2,142.4 592.3,141.2 593.3,139.9 592.5,138.6 593.4,137.3 592.5,136.0 593.6,134.7 593.0,133.4 593.9,132.1 593.3,130.8 594.2,129.4 593.7,128.1 594.5,126.8 594.0,125.5 594.8,124.2 594.3,122.9 595.1,121.6 594.6,120.2 595.6,118.9 595.2,117.6 595.3,116.3 595.5,115.0 596.5,113.5 597.5,114.0 597.8,160.0 598.5,200.0 599.0,320.0 600.2,500.0 600.8,538.0 601.4,538.7 601.9,539.8 602.5,539.0 603.0,544.6 603.5,524.2 604.1,538.9 604.6,523.1 605.2,541.3 605.8,523.7 606.5,536.8 607.1,522.0 607.7,534.6 608.3,515.6 608.9,536.0 609.5,518.6 610.2,537.3 610.8,514.7 611.4,537.2 612.0,517.5 612.7,535.5 613.3,516.9 613.9,532.7 614.5,515.8 615.2,530.6 615.8,511.3 616.4,528.0 617.0,507.2 617.7,525.1 618.3,511.8 618.9,525.1 619.5,510.7 620.2,524.6 620.8,509.8 621.4,522.9 622.0,502.8 622.6,526.1 623.2,506.5 623.9,519.5 624.5,500.2 625.1,519.5 625.7,505.1 626.3,516.0 626.9,503.2 627.5,518.7 628.1,497.0 628.7,515.9 629.3,504.0" fill="none" stroke="#ff3333" stroke-width="5.1" stroke-linejoin="round" stroke-linecap="round"/>
<polyline points="199.0,819.0 199.6,810.5 200.2,822.7 200.8,810.3 201.4,821.1 202.0,803.6 202.6,821.1 203.1,810.3 203.7,822.4 204.3,812.9 204.9,823.7 205.4,809.5 206.0,826.9 206.6,811.6 207.1,824.0 207.7,807.2 208.3,826.1 208.9,810.1 209.4,819.9 210.0,806.5 210.6,822.9 211.2,806.9 211.8,818.7 212.4,801.9 213.0,817.3 213.6,806.1 214.2,815.1 214.8,802.5 215.4,818.1 216.0,799.0 216.6,812.0 217.2,800.0 217.8,808.6 218.4,798.9 219.0,809.0 219.6,794.5 220.2,813.0 220.9,799.2 221.5,811.8 222.1,796.9 222.8,815.8 223.4,801.7 224.0,820.2 224.6,800.6 225.1,809.7 225.7,797.2 226.3,808.0 226.9,790.3 227.4,812.3 228.0,782.1 228.6,804.3 229.1,783.2 229.7,802.4 230.3,789.9 230.9,804.2 231.4,789.3 232.0,802.8 232.6,783.6 233.2,800.4 233.9,783.9 234.5,800.3 235.1,785.3 235.8,799.4 236.4,783.1 237.0,795.8 237.6,780.0 238.1,794.9 238.7,778.8 239.3,791.0 239.9,776.4 240.4,787.6 241.0,770.6 241.6,784.8 242.2,770.2 242.9,783.1 243.5,769.8 244.1,781.6 244.8,766.7 245.4,777.8 246.0,766.4 246.6,778.0 247.1,764.4 247.7,777.1 248.3,766.2 248.9,778.3 249.4,765.8 250.0,776.4 250.6,763.5 251.2,779.3 251.8,762.7 252.4,777.9 253.0,756.5 253.6,773.0 254.1,753.6 254.7,770.5 255.3,761.0 255.9,772.9 256.4,761.6 257.0,777.9 257.6,756.5 258.2,771.6 258.8,760.1 259.4,770.6 260.0,758.9 260.6,769.7 261.2,750.9 261.8,767.4 262.4,753.0 263.0,764.8 263.6,752.7 264.2,765.0 264.9,753.3 265.5,766.8 266.1,754.5 266.8,765.5 267.4,754.1 268.0,767.7 268.6,754.0 269.2,773.0 269.8,746.1 270.4,766.1 271.0,751.1 271.6,763.9 272.2,748.5 272.8,769.9 273.4,743.5 274.0,762.4 274.6,743.5 275.2,756.2 275.9,740.8 276.5,753.4 277.1,739.9 277.8,749.1 278.4,736.5 279.0,748.0 279.6,734.8 280.2,745.0 280.8,732.3 281.4,744.1 282.0,729.9 282.6,740.6 283.2,728.3 283.8,739.5 284.4,727.0 285.0,741.1 285.6,724.9 286.2,735.6 286.8,721.5 287.4,733.2 288.0,722.1 288.6,732.3 289.2,719.7 289.8,730.4 290.4,719.6 291.0,730.0 291.6,717.7 292.2,729.6 292.8,714.3 293.4,729.5 294.0,708.0 294.6,731.4 295.2,701.1 295.9,725.7 296.5,701.7 297.1,716.3 297.8,699.5 298.4,715.4 299.0,694.4 299.6,710.9 300.2,692.1 300.8,709.8 301.4,686.7 302.0,704.8 302.6,678.6 303.2,701.9 303.8,677.1 304.4,701.5 305.0,671.6 305.6,705.0 306.1,682.9 306.7,705.1 307.3,688.1 307.9,722.9 308.4,699.3 309.0,716.7 309.6,700.3 310.2,717.6 310.9,698.4 311.5,716.4 312.1,700.2 312.8,720.5 313.4,696.3 314.0,717.8 314.6,696.0 315.1,711.9 315.7,695.3 316.3,707.7 316.9,691.4 317.4,706.7 318.0,690.8 318.6,714.9 319.1,686.5 319.7,713.6 320.3,676.4 320.9,707.7 321.5,681.6 322.1,703.5 322.7,673.0 323.3,701.7 323.9,683.4 324.5,701.5 325.1,680.1 325.6,707.7 326.2,679.5 326.8,707.8 327.4,677.8 327.9,697.4 328.5,672.9 329.1,694.4 329.6,673.5 330.2,693.7 330.8,658.5 331.4,692.1 331.9,658.0 332.5,688.7 333.1,660.1 333.8,687.3 334.4,659.6 336.1,668.0 333.9,666.7 336.5,665.4 334.0,664.1 336.8,662.9 334.7,661.6 337.1,660.3 334.8,659.0 337.9,657.7 335.5,656.4 338.0,655.1 335.6,653.9 338.2,652.6 336.2,651.3 337.6,657.2 338.2,640.4 338.9,649.9 339.5,632.9 340.1,640.5 340.8,622.9 341.4,633.0 342.1,615.0 342.7,625.5 343.3,604.7 343.9,622.3 344.5,597.8 345.0,612.7 345.6,592.3 346.2,615.1 345.4,592.0 348.2,590.7 346.9,589.4 349.5,588.1 346.9,586.8 349.8,585.5 347.5,584.2 350.2,582.9 347.6,581.6 350.6,580.3 347.9,579.0 350.8,577.7 348.1,576.4 350.9,575.1 348.8,573.8 351.4,572.5 348.8,571.2 351.8,569.9 349.0,568.6 351.7,567.3 349.8,560.3 350.4,574.0 350.9,563.2 351.4,574.1 352.0,564.7 352.6,577.3 353.2,569.2 353.9,583.6 354.3,580.0 356.0,581.3 354.5,582.6 356.1,583.9 355.4,585.2 356.9,586.5 355.6,587.8 357.1,589.1 355.6,590.4 357.2,591.7 355.7,593.0 357.2,594.3 355.9,595.7 357.6,597.0 356.2,598.3 357.6,599.6 355.4,600.9 356.8,602.2 355.4,603.5 356.8,604.8 355.6,606.1 357.1,607.4 355.9,608.7 357.1,610.0 356.0,611.3 357.3,612.6 356.9,613.8 358.4,615.1 357.2,616.4 358.4,617.7 357.2,619.0 358.6,620.2 357.4,621.5 358.7,622.8 357.5,624.1 358.8,625.4 357.7,626.6 359.0,627.9 357.8,629.2 359.1,630.5 356.3,631.8 357.6,633.0 356.3,634.3 357.7,635.6 356.5,636.9 357.7,638.2 356.6,639.4 358.0,640.7 356.8,642.0 358.0,643.3 357.0,644.6 358.3,645.8 357.2,647.1 358.3,648.4 357.4,649.7 358.5,651.0 357.4,652.2 358.6,653.5 357.6,654.8 358.7,656.1 357.8,657.4 359.0,658.6 358.0,659.9 359.1,661.2 358.1,662.5 359.3,663.8 358.4,665.0 359.4,666.3 358.5,667.6 359.6,668.9 358.7,670.2 359.7,671.4 358.8,672.7 360.0,674.5 360.6,668.4 361.2,670.9 361.9,655.9 362.5,669.2 363.1,648.4 363.8,663.1 364.4,644.1 365.0,657.2 365.6,638.6 366.2,649.6 366.8,634.3 367.4,644.2 368.0,628.0 368.6,644.3 369.3,622.4 369.9,638.5 370.6,614.6 371.2,630.6 371.8,612.5 372.3,625.7 372.9,598.1 373.4,628.9 374.0,600.3 374.6,629.5 375.1,593.0 375.6,623.3 376.2,595.3 376.8,617.9 377.3,592.8 377.9,611.1 378.6,589.2 379.2,609.5 379.9,584.4 380.5,609.9 381.1,588.0 381.7,607.8 382.2,586.8 382.8,600.7 383.4,581.3 384.1,596.9 384.7,579.6 384.8,580.0 382.8,578.7 385.3,577.3 384.7,576.0 387.5,574.7 385.3,573.3 387.8,572.0 385.4,570.7 388.0,569.3 385.7,568.0 388.4,566.7 386.0,565.3 388.7,564.0 386.3,562.7 388.9,561.3 386.3,560.0 389.1,558.7 386.7,557.4 387.2,556.1 384.5,554.7 387.0,553.4 384.6,552.1 387.5,550.8 384.7,549.5 387.7,548.2 385.1,546.8 387.5,545.5 385.0,544.2 388.0,542.9 385.5,541.6 389.7,540.3 387.1,538.9 389.8,537.6 387.5,536.3 389.7,535.0 387.7,533.7 389.7,532.4 387.5,531.1 389.7,529.7 387.5,528.4 389.8,527.1 387.6,525.8 390.2,524.5 388.0,523.2 390.0,521.8 387.8,520.5 390.0,519.2 388.1,517.9 390.1,516.6 387.9,515.3 390.2,513.9 388.2,512.6 390.6,511.3 388.7,510.0 390.6,508.7 388.6,507.4 390.9,506.0 388.9,504.7 390.9,503.4 389.0,502.1 391.6,500.8 389.6,499.4 391.9,498.1 389.9,496.8 391.9,495.5 390.1,494.1 392.1,492.8 390.0,491.5 392.2,490.2 390.4,488.9 392.4,487.5 390.6,486.2 392.5,484.9 390.5,483.6 392.5,482.2 390.7,480.9 392.6,479.6 391.0,478.3 393.0,477.0 391.2,475.6 392.9,474.3 389.8,473.0 391.6,471.7 390.2,470.4 391.9,469.1 390.3,467.9 392.2,466.6 390.5,465.3 392.4,464.0 390.7,462.7 392.7,461.4 390.8,460.1 392.8,458.9 391.3,457.6 393.1,456.3 391.6,455.0 393.3,453.7 391.7,452.4 393.8,451.1 392.0,449.9 393.8,448.6 392.2,447.3 394.2,446.0 393.9,444.7 395.7,443.4 394.0,442.1 395.9,440.9 394.3,439.6 396.4,438.3 394.5,437.0 396.7,435.7 395.0,434.4 396.9,433.1 395.3,431.8 397.0,430.5 394.5,429.2 396.4,428.0 394.8,426.7 396.8,425.4 395.1,424.1 397.0,422.8 395.4,421.5 397.2,420.2 395.6,418.9 397.4,417.6 396.3,416.3 397.9,415.0 396.6,413.8 398.2,412.5 396.9,411.2 398.4,409.9 397.0,408.6 398.7,407.3 397.3,406.0 399.0,404.7 397.4,403.4 399.1,402.1 397.5,400.8 399.1,399.5 397.6,398.2 399.1,397.0 397.8,395.7 399.2,394.4 398.0,393.1 399.3,391.8 398.0,390.5 399.5,389.2 398.4,387.9 399.6,386.6 398.5,385.3 399.7,384.0 398.7,382.8 399.9,381.5 398.7,380.2 400.1,378.9 399.0,377.6 400.2,376.3 399.1,375.0 400.4,373.7 399.3,372.4 400.4,371.0 399.6,369.7 400.4,368.4 399.7,367.1 400.6,365.8 399.8,364.5 400.7,363.1 400.2,361.8 401.0,360.5 400.4,359.2 401.2,357.9 400.4,356.5 401.3,355.2 400.6,353.9 401.3,352.6 400.8,351.3 400.9,350.0 401.2,348.6 401.2,347.3 401.3,346.0 402.9,391.0 405.9,482.0 408.0,574.0 408.1,575.3 408.1,576.6 408.2,577.9 408.2,579.3 408.3,580.6 408.3,581.9 408.4,583.2 408.4,584.5 407.6,585.8 408.3,587.1 407.7,588.5 408.5,589.8 407.8,591.1 408.6,592.4 408.0,593.7 408.7,595.0 408.1,596.3 408.8,597.7 408.2,599.0 408.8,600.3 408.3,601.6 409.0,602.9 408.3,604.2 409.5,605.5 408.9,606.9 409.6,608.2 409.0,609.5 409.8,610.8 409.1,612.1 409.9,613.4 409.1,614.7 409.8,616.1 409.0,617.4 409.9,618.7 409.1,620.0 410.0,618.8 409.4,617.5 410.2,616.2 409.4,615.0 410.5,613.8 409.4,612.5 410.7,611.2 409.4,610.0 411.1,608.8 409.6,607.5 411.2,606.2 409.8,605.0 411.5,603.7 409.8,602.4 412.8,601.1 410.9,599.8 412.8,598.5 411.3,597.2 413.1,595.9 411.5,594.6 413.3,593.4 411.6,592.1 413.6,590.8 411.9,589.5 414.0,588.2 412.3,586.9 414.0,585.6 412.4,584.3 414.2,583.0 412.9,581.7 414.6,580.4 413.9,579.1 416.0,577.8 414.2,576.5 416.2,575.3 414.8,574.0 416.6,572.7 415.1,571.4 417.1,570.1 415.4,568.8 417.4,567.5 415.9,566.2 417.8,564.9 416.3,563.6 418.4,562.4 416.8,561.1 418.8,559.8 417.1,558.5 419.1,557.2 417.6,555.9 419.6,554.6 418.0,553.3 418.9,552.0 417.1,550.7 419.1,549.5 417.7,548.2 419.6,546.9 417.9,545.6 420.0,544.3 419.6,534.8 420.2,547.1 420.8,527.8 421.4,542.1 422.0,521.3 422.6,538.9 423.3,520.6 423.9,532.3 424.5,512.9 425.1,521.8 424.2,513.0 426.5,511.7 424.5,510.4 426.9,509.1 424.8,507.8 427.0,506.5 425.2,505.2 427.4,503.9 425.4,502.6 427.7,501.3 425.9,500.0 428.1,498.7 426.2,497.4 428.3,496.1 426.6,494.8 428.7,493.5 427.0,492.2 429.0,490.8 427.0,489.5 429.4,488.2 427.3,486.9 429.7,485.6 427.5,484.3 430.0,483.0 428.1,481.7 430.0,480.4 428.3,479.1 430.3,477.8 428.6,476.5 431.1,475.2 429.3,473.9 431.6,472.6 429.7,471.3 431.9,470.0 430.0,468.7 432.1,467.4 430.3,466.1 432.3,464.8 430.3,463.5 432.6,462.3 430.8,461.0 432.8,459.7 431.1,458.4 433.1,457.1 431.4,455.8 433.4,454.5 431.7,453.2 433.7,451.9 431.9,450.6 432.4,449.4 430.6,448.1 432.7,446.8 430.6,445.5 433.1,444.2 431.0,442.9 433.2,441.6 431.4,440.3 433.4,439.0 431.6,437.7 433.9,436.5 431.9,435.2 434.3,433.9 432.3,432.6 434.2,431.3 432.4,430.0 434.7,428.7 432.9,427.4 435.1,426.1 435.4,424.9 437.5,423.6 435.7,422.3 437.9,421.0 436.1,419.7 438.1,418.4 436.5,417.1 438.6,415.9 436.6,414.6 436.6,413.3 434.7,412.0 436.8,410.7 435.1,409.4 437.3,408.1 435.3,406.9 437.5,405.6 435.7,404.3 437.7,403.0 437.2,401.7 439.1,400.4 437.6,399.1 439.3,397.8 437.6,396.5 439.5,395.2 438.0,393.9 440.1,392.6 438.2,391.3 440.1,390.0 438.4,388.7 440.5,387.4 439.0,386.1 440.9,384.8 439.1,383.5 441.2,382.2 439.5,380.8 441.4,379.5 439.3,378.2 441.0,376.9 439.5,375.6 441.4,374.3 439.8,373.0 441.5,371.7 440.1,370.4 442.0,369.1 441.5,367.8 443.2,366.5 441.5,365.2 443.7,363.9 442.0,362.6 444.0,361.3 442.3,360.0 444.1,358.7 442.5,357.4 444.2,356.1 442.3,354.8 444.3,353.5 442.6,352.2 444.4,350.9 442.7,349.6 444.5,348.3 442.8,347.0 444.7,345.7 443.0,344.3 444.6,343.0 443.1,341.7 445.4,340.4 443.9,339.1 445.6,337.8 444.0,336.5 445.6,335.2 444.1,333.9 445.8,332.6 444.3,331.3 444.1,330.0 442.7,328.7 444.2,327.4 443.1,326.1 444.4,324.8 443.2,323.5 444.7,322.3 443.3,321.0 444.5,319.7 443.3,318.4 444.7,317.1 443.3,315.8 444.9,314.5 443.6,313.2 446.4,311.9 445.1,310.6 446.4,309.4 445.1,308.1 446.4,306.8 445.3,305.5 446.5,304.2 445.4,302.9 446.7,301.6 444.9,300.3 446.1,299.0 445.0,297.7 446.2,296.5 445.0,295.2 446.3,293.9 445.1,292.6 446.3,291.3 445.1,290.0 446.5,288.7 445.3,287.4 446.4,286.1 445.3,284.8 446.6,283.5 445.4,282.2 446.6,280.9 445.4,279.6 446.6,278.3 445.6,277.0 446.8,275.8 445.6,274.5 446.8,273.2 445.6,271.9 446.9,270.6 445.7,269.3 446.9,268.0 445.8,266.7 447.0,265.4 446.2,264.1 447.4,262.8 446.2,261.5 447.4,260.2 446.4,258.9 447.4,257.6 446.4,256.3 447.6,255.0 446.5,253.7 447.6,252.4 446.5,251.1 447.7,249.9 446.6,248.6 447.7,247.3 446.7,246.0 447.8,244.7 446.8,243.4 447.8,242.1 445.6,240.8 446.7,239.5 445.8,238.2 446.8,236.9 445.8,235.6 446.8,234.3 445.9,233.0 446.9,231.7 446.0,230.4 446.9,229.1 446.0,227.8 447.0,226.5 446.1,225.2 447.1,224.0 446.1,222.7 447.2,221.4 446.1,220.1 447.2,218.8 446.3,217.5 447.3,216.2 446.5,214.9 447.3,213.6 446.5,212.3 447.3,211.0 446.6,209.7 447.5,208.4 446.5,207.1 447.5,205.8 446.6,204.5 447.6,203.2 446.7,201.9 447.6,200.6 446.7,199.3 447.9,198.0 447.2,196.7 447.9,195.4 447.2,194.1 448.0,192.8 447.2,191.5 448.0,190.2 447.3,188.9 448.1,187.6 447.4,186.3 448.1,185.0 447.4,183.7 448.1,182.4 447.8,181.1 448.6,179.8 447.9,178.5 448.7,177.2 447.9,175.9 448.7,174.6 448.0,173.3 448.6,172.0 448.0,170.7 448.8,169.4 448.1,168.1 448.7,166.8 447.8,165.5 448.5,164.2 447.8,162.9 448.6,161.6 447.8,160.3 448.6,159.0 447.9,157.7 448.7,156.4 448.0,155.1 448.7,153.8 448.0,152.5 448.8,151.2 448.0,149.8 448.8,148.5 448.1,147.2 448.8,145.9 448.2,144.6 448.8,143.3 448.2,142.0 448.9,140.7 448.1,139.4 448.9,138.1 448.2,136.8 448.9,135.5 448.2,134.2 448.9,132.9 448.2,131.6 449.0,130.3 448.3,129.0 449.0,127.7 448.3,126.4 449.0,125.1 448.3,123.8 449.2,122.5 448.4,121.2 449.2,119.9 448.4,118.6 449.2,117.3 448.5,116.0 449.2,114.7 448.9,113.4 449.7,112.1 449.0,110.8 449.2,109.5 449.2,108.2 449.2,106.9 449.2,105.6 449.3,104.3 449.3,103.0 449.3,101.7 449.3,100.4 449.3,99.1 449.4,97.8 449.4,96.5 449.4,95.2 449.4,93.9 449.5,92.6 449.5,91.3 449.5,90.0 451.0,90.0 453.1,330.0 454.6,513.0 456.2,592.0 456.8,595.5 457.4,599.0 458.0,602.5 458.6,605.2 459.3,608.1 460.0,587.7 460.7,605.7 461.3,585.4 461.9,605.8 462.4,588.7 463.0,603.4 463.6,587.6 464.1,604.2 464.7,589.9 465.3,606.1 465.9,589.9 466.5,606.0 467.1,587.7 467.7,602.3 468.4,586.8 469.0,602.1 469.6,588.5 470.2,599.5 470.8,582.1 471.4,599.3 472.0,580.7 472.6,597.5 473.2,582.0 473.8,595.8 474.4,581.5 475.0,592.7 475.6,577.0 476.2,590.4 476.9,571.9 477.5,597.4 478.1,571.6 478.8,590.5 479.4,569.9 480.0,584.5 480.6,566.0 481.2,589.8 481.8,567.0 482.4,583.9 483.0,578.0" fill="none" stroke="#cccc33" stroke-width="5.1" stroke-linejoin="round" stroke-linecap="round"/>
<polyline points="502.0,830.0 502.6,821.1 503.1,835.2 503.6,821.9 504.2,834.7 504.8,816.9 505.3,840.0 505.9,802.3 506.5,838.4 507.1,806.9 507.7,846.8 508.3,814.7 508.8,841.4 509.4,814.7 510.0,838.6 510.6,803.0 511.2,837.4 511.8,811.5 512.4,835.3 513.1,814.3 513.7,835.6 514.3,814.1 515.0,832.7 515.6,814.2 516.2,838.5 516.9,816.1 517.5,837.9 518.1,807.1 518.7,837.9 519.3,816.2 519.8,848.3 520.4,810.0 521.0,844.9 521.6,809.1 522.2,829.4 522.9,802.8 523.5,825.8 524.2,794.3 524.8,816.8 525.4,783.4 526.0,820.4 526.6,797.0 527.2,820.2 527.9,798.4 528.5,821.0 529.1,798.3 529.7,822.7 530.3,794.6 530.9,822.1 531.5,789.8 532.1,804.2 532.7,781.4 533.3,800.4 533.9,779.9 534.4,798.8 535.0,771.8 535.6,808.9 536.2,772.1 536.8,798.5 537.4,772.7 538.0,797.5 538.5,773.1 539.1,804.4 539.7,766.1 540.3,797.1 540.9,776.6 541.5,803.6 542.1,781.9 542.7,814.0 543.4,782.1 544.0,803.1 544.7,777.3 545.3,800.9 546.0,773.2 546.6,793.9 547.3,769.4 547.9,781.9 548.6,759.3 549.2,776.3 549.9,756.7 550.5,774.5 551.2,745.9 551.8,769.7 552.5,740.8 553.1,769.6 553.8,754.6 554.4,775.0 555.1,754.1 555.7,778.6 556.3,762.4 556.9,778.2 557.5,755.6 558.0,780.2 558.6,754.2 559.2,778.8 559.8,752.3 560.4,776.2 561.0,750.3 561.6,777.6 562.1,752.2 562.7,778.0 563.3,751.5 563.9,790.1 564.5,752.8 565.1,780.7 565.8,750.2 566.4,785.2 567.0,749.6 567.6,784.2 568.3,748.9 568.9,776.7 569.5,750.0 570.1,773.7 570.7,750.9 571.3,771.3 572.0,741.4 572.6,771.2 573.2,747.5 573.8,765.1 574.4,743.3 575.0,765.1 575.6,744.6 576.2,761.3 576.7,736.9 577.3,765.0 577.9,736.9 578.5,760.8 579.1,717.6 579.7,757.2 580.3,728.5 580.8,755.3 581.4,722.2 582.0,751.5 582.6,719.3 583.2,746.4 583.8,706.5 584.4,740.9 585.0,709.7 585.6,742.0 586.2,708.2 586.8,740.4 587.4,700.5 588.0,732.6 588.6,711.9 589.2,736.4 589.7,709.7 590.3,731.8 590.9,712.9 591.5,729.2 592.1,707.1 592.6,723.4 593.2,707.3 593.8,724.3 594.4,699.2 595.0,731.3 595.5,690.8 596.1,721.3 596.7,692.7 597.3,717.0 597.8,680.6 598.4,711.1 597.6,694.5 600.2,693.2 598.1,691.9 600.6,690.6 598.5,689.3 601.2,688.0 598.6,686.7 601.2,685.4 598.7,684.1 601.8,682.8 599.4,681.4 600.9,680.1 598.3,678.8 601.1,677.5 598.8,676.2 601.3,674.9 599.1,673.6 601.7,672.3 601.9,652.9 602.5,689.8 603.0,659.4 603.5,693.9 604.1,659.6 604.7,693.4 602.4,682.0 605.3,683.3 602.9,684.5 605.6,685.8 603.1,687.1 605.9,688.4 603.3,689.6 606.1,690.9 603.4,692.2 606.5,693.5 603.8,694.7 606.7,696.0 604.1,697.3 607.3,698.5 604.6,699.8 607.5,701.1 605.1,702.4 607.9,703.6 605.5,704.9 608.1,706.2 605.7,707.5 608.4,708.7 609.0,699.1 609.6,716.9 610.3,697.5 611.0,715.9 611.6,692.6 612.2,705.8 612.9,686.7 613.5,707.2 614.2,688.4 614.8,701.7 615.4,683.3 616.1,701.8 617.0,696.0 620.1,694.7 617.4,693.4 620.4,692.1 617.8,690.8 620.5,689.5 618.1,688.2 620.8,686.9 618.6,685.6 621.0,684.3 618.6,683.0 621.4,681.7 619.0,680.4 621.6,679.1 619.4,677.8 618.6,676.5 616.2,675.2 618.8,673.9 616.6,672.6 619.1,671.3 619.7,659.1 620.3,681.2 620.9,659.1 621.4,679.0 622.0,663.0 622.6,679.4 623.1,661.7 623.7,681.2 624.3,658.9 624.9,676.2 625.6,654.7 626.2,683.7 626.8,663.0 627.5,678.3 628.1,661.2 628.7,674.7 629.4,660.1 630.0,673.0 630.6,658.0 631.3,677.5 629.0,665.0 631.7,663.7 629.2,662.4 631.9,661.1 629.7,659.7 632.1,658.4 630.0,657.1 632.6,655.8 630.4,654.5 633.1,653.2 632.5,651.8 635.3,650.5 633.2,649.2 635.9,647.9 633.4,646.6 636.2,645.3 633.7,643.9 636.2,642.6 633.9,641.3 636.8,640.0 634.3,638.7 636.8,637.4 634.4,636.1 637.1,634.8 634.8,633.5 637.4,632.2 636.6,630.8 639.3,629.5 636.5,628.2 639.3,626.9 636.8,625.6 639.7,624.3 637.2,623.0 640.1,621.7 637.4,620.4 640.0,619.1 637.7,617.8 640.3,616.5 638.2,615.2 640.6,613.8 638.2,612.5 640.9,611.2 638.5,609.9 641.2,608.6 639.1,607.3 638.7,613.4 639.3,597.3 639.9,608.7 640.5,591.8 641.2,604.8 641.8,585.7 642.4,605.6 643.0,578.9 643.5,592.5 644.1,572.7 644.7,585.4 645.3,563.7 645.9,588.0 646.4,556.4 649.7,563.0 647.7,561.7 647.1,560.4 645.0,559.2 647.5,557.9 645.0,556.6 647.8,555.3 645.2,554.1 648.0,552.8 645.7,551.5 650.5,550.2 647.9,548.9 650.8,547.7 648.5,546.4 651.2,545.1 648.6,543.8 651.1,542.6 648.7,541.3 651.5,540.0 649.1,538.7 651.2,537.5 649.4,536.2 651.0,534.9 649.7,533.6 651.0,532.4 650.0,531.1 650.9,529.8 650.2,528.5 651.1,527.3 650.6,526.0 652.0,540.0 652.8,600.0 652.8,601.3 652.8,602.6 652.8,603.9 652.8,605.2 652.9,606.6 652.9,607.9 652.9,609.2 652.9,610.5 652.9,611.8 652.2,613.1 653.0,614.4 652.2,615.7 653.0,617.0 652.3,618.3 653.0,619.7 652.2,621.0 653.0,622.3 652.3,623.6 653.0,624.9 652.3,626.2 653.0,627.5 652.3,628.8 653.0,630.1 652.4,631.4 653.0,632.8 652.4,634.1 653.0,635.4 652.4,636.7 653.1,638.0 652.4,639.3 653.0,640.6 652.4,641.9 653.1,643.2 652.4,644.6 653.1,645.9 652.3,647.2 653.0,648.5 652.4,649.8 653.1,651.1 652.4,652.4 653.1,653.7 652.5,655.0 653.1,656.3 652.4,657.7 653.1,659.0 652.4,660.3 653.1,661.6 652.4,662.9 653.2,664.2 652.3,665.5 653.2,666.8 652.4,668.1 653.1,669.4 652.3,670.8 653.3,672.1 653.2,673.4 654.0,674.7 653.1,676.0 654.2,674.7 653.3,673.3 654.6,672.0 653.6,670.7 655.1,669.3 653.7,668.0 655.5,666.7 653.8,665.3 655.8,664.0 654.1,662.7 656.2,661.3 654.4,660.0 654.8,658.7 652.0,657.4 654.9,656.1 652.5,654.8 655.2,653.5 652.8,652.2 655.5,650.8 653.0,649.5 655.8,648.2 653.4,646.9 656.2,645.6 653.8,644.3 657.0,654.7 657.6,629.5 658.1,654.6 658.7,630.1 659.3,646.4 659.9,627.8 660.5,649.2 661.0,621.2 661.6,646.2 662.2,624.3 662.8,642.2 663.5,602.6 664.1,656.1 664.7,611.9 665.3,640.1 665.9,603.1 666.4,630.1 667.0,601.7 667.6,622.6 668.2,597.0 668.8,620.8 669.3,595.7 669.2,605.0 666.9,603.7 669.8,602.4 667.1,601.1 673.2,599.8 670.7,598.5 673.3,597.2 671.1,595.8 673.5,594.5 671.1,593.2 674.1,591.9 671.7,590.6 674.4,589.3 671.9,588.0 674.4,586.7 672.1,585.4 674.6,584.1 672.3,582.8 675.0,581.5 672.5,580.2 672.1,578.8 669.7,577.5 672.1,576.2 670.0,574.9 672.7,573.6 670.4,572.3 673.5,584.0 674.1,558.8 674.7,575.2 675.2,553.2 675.8,566.9 676.4,543.0 676.2,550.0 674.1,548.8 676.5,547.5 674.5,546.2 677.2,545.0 674.5,543.8 677.2,542.5 675.0,541.2 677.5,540.0 675.4,538.8 678.0,537.5 675.7,536.2 678.5,535.0 676.2,533.7 678.7,532.4 678.3,531.2 680.9,529.9 678.7,528.6 681.7,527.3 679.2,526.0 682.0,524.8 679.5,523.5 682.1,522.2 679.9,520.9 682.8,519.6 680.3,518.4 682.9,517.1 679.4,515.8 681.9,514.5 679.5,513.2 682.5,512.0 679.8,510.7 682.7,509.4 680.2,508.1 682.9,506.8 680.6,505.6 683.5,504.3 683.6,496.9 684.2,506.1 684.7,489.3 685.3,505.9 685.9,483.5 686.4,498.8 687.0,477.8 687.6,490.2 688.2,467.6 688.9,483.7 689.5,465.6 690.1,476.6 688.2,468.0 690.8,466.7 688.6,465.4 691.1,464.2 688.8,462.9 691.2,461.6 688.9,460.3 691.2,459.1 691.9,457.8 694.0,456.5 692.1,455.2 694.5,453.9 692.0,452.7 694.7,451.4 692.2,450.1 694.9,448.8 692.6,447.6 695.1,446.3 692.6,445.0 692.0,443.7 689.7,442.4 691.9,441.1 689.8,439.8 692.3,438.5 690.1,437.2 692.2,436.0 690.2,434.7 692.4,433.4 690.5,432.1 692.8,430.8 690.8,429.5 692.7,428.2 690.7,426.9 692.8,425.6 691.1,424.3 693.1,423.0 691.4,421.8 693.3,420.5 691.5,419.2 693.3,417.9 691.6,416.6 694.5,415.3 692.8,414.0 694.7,412.7 692.9,411.3 694.7,410.0 693.2,408.7 694.9,407.3 693.3,406.0 695.1,404.7 693.8,403.3 695.3,402.0 693.8,400.7 695.7,399.3 694.1,398.0 694.9,396.7 693.7,395.3 695.3,394.0 694.0,392.7 695.5,391.3 694.1,390.0 695.8,388.7 694.3,387.4 695.8,386.1 694.3,384.8 696.0,383.5 694.6,382.2 696.0,380.9 695.0,379.6 696.6,378.3 695.2,377.0 696.7,375.7 695.4,374.4 696.8,373.1 695.5,371.9 696.8,370.6 695.5,369.3 696.9,368.0 695.6,366.7 697.0,365.4 696.9,364.1 698.2,362.8 696.9,361.5 698.2,360.2 697.1,358.9 698.4,357.6 697.1,356.3 698.5,355.0 697.3,353.7 698.5,352.4 697.5,351.1 698.5,349.8 697.7,348.5 698.7,347.2 697.7,345.9 698.7,344.6 697.8,343.3 698.5,342.0 697.8,340.7 698.6,339.4 698.0,338.1 698.8,336.9 698.1,335.6 698.9,334.3 698.2,333.0 699.1,331.7 698.4,330.4 699.1,329.1 698.5,327.8 699.3,326.5 698.7,325.2 699.0,323.9 699.1,322.6 699.1,321.3 699.2,320.0 700.2,345.0 700.6,400.0 700.5,500.0 700.2,560.0 700.2,561.3 700.3,562.6 700.3,563.9 700.3,565.2 700.3,566.5 700.4,567.8 700.8,569.1 700.1,570.4 700.3,571.7 699.6,573.0 700.4,574.3 699.7,575.6 700.5,576.9 699.7,578.1 700.5,579.4 699.8,580.7 700.5,582.0 699.8,583.3 700.6,584.6 699.9,585.9 700.7,587.2 700.0,588.5 700.7,589.8 700.1,591.1 700.8,592.4 700.2,593.7 700.8,595.0 700.3,596.3 701.0,597.6 700.4,598.9 702.2,600.2 701.7,601.5 702.4,602.8 701.8,604.2 702.6,605.5 701.9,606.8 702.8,608.1 702.1,609.4 703.0,610.7 702.3,612.0 703.2,613.3 702.5,614.6 703.5,615.9 702.7,617.2 703.7,618.5 702.9,619.8 703.9,621.2 703.0,622.5 704.1,623.8 703.2,625.1 704.3,626.4 703.4,627.7 704.4,629.0 703.7,627.7 704.7,626.4 703.8,625.1 704.8,623.8 703.9,622.4 705.0,621.1 704.0,619.8 705.3,618.5 704.2,617.2 705.3,615.9 704.3,614.6 705.5,613.3 704.4,612.0 705.7,610.6 704.4,609.3 704.5,608.0 703.3,606.7 704.6,605.4 703.3,604.1 704.8,602.8 703.5,601.5 704.8,600.2 703.6,598.8 705.0,597.5 705.1,596.2 706.6,594.9 705.2,593.6 706.8,592.3 705.2,591.0 706.9,589.7 705.4,588.4 707.1,587.0 705.6,585.7 707.3,584.4 705.8,583.1 707.4,581.8 705.7,580.5 707.6,579.2 705.9,577.9 708.0,576.6 706.0,575.2 708.0,573.9 705.8,572.6 707.8,571.3 706.0,557.2 706.6,575.9 707.2,561.3 707.8,579.7 708.5,558.9 709.1,572.2 709.7,555.5 710.3,568.2 710.9,545.7 711.5,562.5 712.1,544.8 712.7,556.1 713.4,546.0 715.3,544.7 713.5,543.5 715.5,542.2 714.0,540.9 715.8,539.7 714.2,538.4 716.1,537.1 714.5,535.9 716.5,534.6 714.9,533.3 716.8,532.1 715.2,530.8 717.7,529.5 716.0,528.3 718.0,527.0 716.4,525.7 718.4,524.4 716.7,523.1 718.8,521.7 717.2,520.4 719.1,519.1 717.5,517.8 719.4,516.5 717.9,515.2 719.8,513.8 718.0,512.5 720.0,511.2 718.4,509.9 720.3,508.6 718.8,507.3 720.9,505.9 719.2,504.6 721.2,503.3 719.6,502.0 721.4,500.7 720.0,499.4 721.9,498.1 719.6,496.8 721.4,495.5 719.8,494.2 721.8,492.8 720.2,491.5 722.3,490.2 720.8,488.9 722.7,487.6 721.2,486.3 722.9,485.0 721.5,483.7 723.4,482.3 721.8,481.0 723.8,479.7 722.2,478.3 723.9,477.0 722.4,475.7 724.6,474.3 723.0,473.0 724.9,471.7 723.5,470.3 725.2,469.0 723.6,467.7 725.6,466.3 724.2,465.0 726.0,463.7 724.4,462.3 726.4,461.0 724.9,459.7 726.7,458.4 724.5,457.1 726.4,455.7 724.7,454.4 726.7,453.1 725.2,451.8 727.0,450.5 725.5,449.2 727.2,447.8 725.7,446.5 727.5,445.2 726.0,443.9 728.0,442.6 726.2,441.3 728.2,439.9 726.6,438.6 728.3,437.3 726.6,436.0 728.5,434.7 726.8,433.5 728.3,432.2 726.9,430.9 728.6,429.7 727.1,428.4 728.7,427.1 727.2,425.9 729.1,424.6 727.5,423.3 729.1,422.1 727.5,420.8 729.2,419.5 727.8,418.3 729.3,417.0 728.5,415.7 730.2,414.4 728.9,413.1 730.6,411.7 729.4,410.4 730.9,409.1 729.7,407.8 731.5,406.5 730.2,405.2 731.7,403.8 730.5,402.5 732.1,401.2 730.8,399.9 732.6,398.6 731.3,397.3 732.9,395.9 731.6,394.6 733.3,393.3 732.1,392.0 733.6,390.7 732.1,389.4 733.8,388.1 731.6,386.9 733.2,385.6 731.6,384.3 733.1,383.0 731.8,381.7 733.2,380.4 731.7,379.1 733.3,377.9 733.3,376.6 734.9,375.3 733.5,374.0 735.0,372.7 733.6,371.4 735.0,370.1 733.5,368.9 735.0,367.6 733.7,366.3 735.2,365.0 733.1,363.7 734.4,362.4 733.0,361.1 734.7,359.9 733.1,358.6 734.7,357.3 733.3,356.0 734.7,354.7 733.4,353.4 734.9,352.1 733.4,350.9 734.9,349.6 734.3,348.3 735.9,347.0 734.5,345.7 735.9,344.4 734.4,343.1 736.1,341.9 734.6,340.6 736.0,339.3 734.7,338.0 736.3,336.7 735.0,335.5 736.6,334.2 735.1,332.9 736.8,331.6 735.4,330.4 736.8,329.1 735.4,327.8 737.2,326.5 735.7,325.3 737.2,324.0 736.2,322.7 737.8,321.5 736.4,320.2 738.0,318.9 736.6,317.6 738.1,316.4 736.8,315.1 738.4,313.8 736.9,312.5 738.6,311.3 737.2,310.0 738.7,308.7 737.4,307.3 739.2,306.0 737.9,304.7 739.2,303.3 738.1,302.0 739.5,300.7 737.1,299.3 738.7,298.0 737.6,296.7 739.0,295.3 737.9,294.0 739.3,292.7 738.2,291.3 739.7,290.0 738.4,288.7 741.0,287.4 739.8,286.0 741.1,284.7 740.1,283.4 741.3,282.1 740.2,280.8 741.6,279.5 740.4,278.1 741.8,276.8 740.5,275.5 741.9,274.2 740.8,272.9 742.0,271.5 741.0,270.2 742.2,268.9 741.2,267.6 742.4,266.3 741.4,265.0 742.5,263.6 741.4,262.3 742.5,261.0 741.4,259.7 742.8,258.4 741.5,257.1 742.8,255.8 741.6,254.4 742.9,253.1 741.9,251.8 743.0,250.5 741.9,249.2 743.1,247.9 742.0,246.6 743.2,245.2 742.2,243.9 743.3,242.6 741.3,241.3 742.6,240.0 741.5,238.7 742.7,237.4 741.6,236.1 742.9,234.8 741.7,233.4 743.0,232.1 741.8,230.8 743.1,229.5 742.0,228.2 743.3,226.9 742.0,225.6 743.2,224.2 742.2,222.9 743.5,221.6 742.3,220.3 743.7,219.0 742.5,217.7 743.7,216.4 743.7,215.1 745.0,213.8 743.8,212.5 745.0,211.2 743.9,209.9 745.1,208.6 743.9,207.3 745.2,206.0 744.1,204.8 745.2,203.5 744.1,202.2 745.2,200.9 744.1,199.6 745.0,198.3 743.9,197.0 745.1,195.7 744.0,194.4 745.1,193.1 744.1,191.8 745.2,190.5 744.2,189.2 745.3,187.9 744.3,186.6 745.3,185.3 744.3,184.0 745.4,182.7 744.5,181.4 745.5,180.1 744.5,178.8 745.6,177.5 744.6,176.2 745.3,175.0 744.5,173.7 745.5,172.4 744.5,171.1 745.4,169.8 744.6,168.5 745.6,167.2 744.6,165.9 745.6,164.6 744.2,163.3 745.1,162.0 744.4,160.7 745.6,159.4 744.8,158.1 745.8,156.8 745.4,155.6 746.1,154.3 745.7,153.0 746.6,151.7 746.0,150.4 746.9,149.1 746.4,147.8 747.3,146.5 746.7,145.2 747.7,143.9 747.1,142.7 747.9,141.4 748.0,140.1 748.2,138.8 748.4,137.5 748.8,140.0 748.4,196.0 747.8,296.0 747.0,404.0 747.0,500.0 747.3,575.0 747.4,576.3 747.4,577.6 747.5,578.9 747.6,580.3 747.8,581.6 747.1,582.9 748.0,584.2 747.3,585.5 748.1,586.8 748.2,588.2 748.9,589.5 748.3,590.8 749.1,592.1 748.4,593.4 749.2,594.7 748.6,596.1 749.3,597.4 748.7,598.7 748.7,600.0 749.3,601.2 749.9,602.4 750.5,603.3 751.2,605.1 751.8,605.4 753.4,607.0 752.7,605.7 753.8,604.4 752.8,603.2 754.1,601.9 753.1,600.6 754.5,599.3 753.3,598.0 754.8,596.8 752.9,595.5 754.8,594.2 753.1,592.9 755.1,591.6 753.1,590.4 755.5,589.1 753.6,587.8 755.8,586.5 753.4,585.2 756.1,584.0 753.8,582.7 756.4,581.4 753.9,580.1 756.5,578.8 753.4,577.6 756.2,576.3 754.8,569.2 755.4,590.1 756.0,568.2 756.6,584.8 757.3,573.7 757.9,586.6 757.5,582.0 759.9,580.7 757.9,579.4 760.5,578.1 758.2,576.8 760.7,575.5 758.5,574.2 761.3,572.8 759.1,571.5 761.8,570.2 759.1,568.9 761.9,567.6 759.5,566.3 761.0,573.2 761.6,558.1 762.2,582.5 762.8,559.3 763.4,574.2 764.0,560.1 764.6,582.8 765.2,562.9 765.8,578.7 766.4,560.6 767.0,576.4 767.7,560.3 768.3,575.3 768.9,554.9 769.5,572.8 770.1,558.3 770.8,571.7 771.4,550.2 772.0,560.0" fill="none" stroke="#339933" stroke-width="5.1" stroke-linejoin="round" stroke-linecap="round"/>
<polyline points="659.0,915.5 659.6,904.5 660.3,920.6 661.0,904.5 661.6,926.7 662.2,904.7 662.9,918.3 663.5,900.3 664.1,915.4 664.7,899.7 665.2,913.6 665.8,898.0 666.4,910.7 667.0,894.5 667.6,908.6 668.2,894.2 668.9,907.5 669.5,897.7 670.2,910.1 670.8,900.1 671.4,908.3 672.0,894.7 672.7,905.1 673.3,890.5 673.9,907.7 674.5,889.8 675.0,906.5 675.6,889.0 676.2,904.1 676.8,890.1 677.3,906.2 677.9,886.9 678.5,901.5 679.2,883.4 679.8,903.6 680.5,881.6 681.1,895.8 681.8,874.5 682.4,896.4 683.1,879.2 683.7,900.7 684.4,885.1 685.0,904.8 685.6,878.6 686.3,898.4 687.0,879.7 687.6,897.3 688.2,879.2 688.9,886.5 689.5,875.8 690.1,884.9 690.7,873.1 691.2,890.9 691.8,870.4 692.4,884.3 693.0,872.4 693.6,884.8 694.2,869.0 694.7,884.4 695.3,862.3 695.9,881.3 696.5,863.6 697.0,881.1 697.6,863.5 698.2,877.0 698.8,859.1 699.4,880.2 700.0,854.2 700.5,868.9 701.1,848.7 701.7,865.5 702.3,843.3 702.9,861.8 703.5,835.8 704.1,858.4 704.6,844.3 705.2,859.7 705.8,845.4 706.4,863.3 707.0,842.3 707.6,855.6 708.1,844.3 708.7,860.9 709.3,849.5 709.9,862.5 710.4,848.2 711.0,866.5 711.6,852.5 712.2,865.6 712.8,851.5 713.4,863.8 713.9,844.1 714.5,861.5 715.1,849.6 715.7,860.3 716.3,847.6 716.9,857.3 717.5,843.6 718.1,852.6 718.8,841.3 719.4,850.2 720.0,834.8 720.6,846.8 721.2,836.8 721.9,850.3 722.5,828.3 723.2,842.9 723.8,830.5 724.5,845.7 725.1,822.2 725.7,839.1 726.2,820.2 726.8,836.1 727.4,820.1 728.0,835.0 728.5,821.5 729.1,834.7 729.7,823.6 730.3,834.5 730.9,821.8 731.5,832.6 732.0,821.1 732.6,828.6 733.2,819.1 733.8,826.2 734.4,815.3 735.0,823.8 735.6,812.7 736.1,822.6 736.7,811.7 737.3,820.6 737.9,808.7 738.5,818.5 739.1,804.9 739.7,818.1 740.3,799.2 740.8,810.2 741.4,792.5 742.0,808.1 742.6,782.8 743.2,804.5 743.7,777.9 744.3,795.3 744.9,780.3 745.4,799.4 746.0,778.9 746.6,792.3 747.1,773.6 747.7,786.7 748.3,774.6 749.0,785.8 749.6,769.5 750.2,782.6 750.9,767.1 751.5,777.3 752.1,764.6 752.8,775.2 753.4,761.3 754.0,773.9 754.7,755.7 755.3,769.3 755.9,754.6 756.4,778.6 757.0,760.4 757.5,777.0 758.1,761.7 758.6,785.8 759.2,760.4 759.8,792.9 760.5,778.8 761.1,798.0 761.7,784.7 762.3,802.3 763.0,786.3 763.6,800.5 764.2,785.3 764.9,796.6 765.5,782.8 766.2,794.2 766.8,781.1 767.4,791.4 767.9,771.3 768.5,783.7 769.1,766.7 769.6,783.2 770.2,763.5 770.8,772.1 771.3,759.9 771.9,767.1 772.5,756.6 773.2,766.2 773.8,756.1 774.4,768.8 775.1,754.9 775.7,763.8 776.3,752.7 777.0,764.2 777.6,748.8 778.2,758.4 778.9,741.6 779.5,756.3 780.2,742.7 780.8,753.6 781.4,737.0 781.9,748.3 782.5,734.1 783.1,749.2 783.6,730.8 784.2,739.7 784.8,728.2 785.3,737.6 786.6,730.0 789.3,728.7 786.6,727.5 789.4,726.2 787.3,724.9 789.7,723.6 787.7,722.4 790.2,721.1 787.7,719.8 790.4,718.5 788.1,717.3 791.1,716.0 788.6,714.7 791.4,713.5 785.3,712.2 788.1,710.9 785.8,709.6 788.3,708.4 786.1,707.1 788.8,705.8 786.1,704.5 789.2,703.3 786.6,702.0 789.2,700.7 786.8,699.4 789.4,698.1 787.1,696.7 789.8,695.4 787.3,694.1 790.1,692.8 787.7,691.5 790.5,690.2 788.2,688.9 790.7,687.5 789.7,686.2 792.5,684.9 790.1,683.6 792.8,682.3 790.2,681.0 793.2,679.6 790.8,678.3 793.2,677.0 790.8,675.7 793.7,674.4 791.9,673.1 794.3,671.8 792.0,670.4 794.6,669.1 792.4,667.8 793.5,671.1 794.1,660.3 794.8,668.6 795.4,656.2 796.0,663.7 796.7,648.2 797.3,660.7 797.9,645.8 798.5,652.4 799.1,640.6 799.8,646.0 800.4,628.5 801.0,638.9 800.4,631.0 803.2,629.7 800.6,628.4 803.5,627.0 801.0,625.7 803.3,624.4 801.1,623.1 803.3,621.8 801.3,620.4 803.4,619.1 801.7,617.8 802.4,616.5 800.9,615.2 802.4,613.8 801.4,612.5 802.7,611.2 801.7,609.9 802.9,608.6 802.2,607.2 803.0,605.9 802.4,604.6 803.4,603.3 802.9,602.0 803.6,600.6 803.5,599.3 803.6,598.0 804.9,631.0 805.7,707.0 805.7,708.3 805.7,709.6 805.8,710.9 805.8,712.1 805.8,713.4 805.8,714.7 805.8,716.0 805.3,717.3 806.1,718.6 805.3,719.9 806.1,721.1 805.4,722.4 806.1,723.7 805.4,725.0 806.7,726.3 806.0,727.6 806.7,728.9 806.1,730.1 806.8,731.4 806.1,732.7 806.8,734.0 806.0,735.3 806.8,736.6 806.1,737.9 806.9,739.1 806.2,740.4 806.8,741.7 806.2,743.0 806.8,741.2 807.5,736.8 808.1,743.5 808.7,728.7 809.3,734.0 810.0,721.1 810.6,730.8 811.2,716.4 811.9,724.9 812.5,714.5 813.2,720.6 813.8,708.3 814.4,717.9 814.9,700.9 815.5,710.3 816.1,700.1 816.6,705.2 817.2,694.5 817.8,701.3 818.3,690.7 818.9,697.5 819.5,686.2 820.1,691.7 820.7,681.5 821.3,690.7 821.9,675.5 822.5,682.7 823.1,670.4 825.5,671.0 823.7,669.7 823.7,668.4 822.0,667.1 824.0,665.8 822.6,664.5 824.5,663.2 822.7,661.8 824.7,660.5 823.1,659.2 825.2,657.9 825.7,656.6 827.6,655.3 826.1,654.0 827.9,652.7 826.3,651.4 828.4,650.1 826.6,648.8 828.5,647.5 827.1,646.2 828.8,644.8 827.3,643.5 827.6,642.2 826.1,640.9 828.0,639.6 826.6,638.3 828.5,637.0 826.8,635.7 828.8,634.4 827.1,633.1 829.2,631.8 827.5,630.5 829.5,629.2 827.9,627.9 829.7,626.6 828.3,625.3 830.2,624.0 828.7,622.7 830.4,621.4 828.9,620.1 830.7,618.9 829.2,617.6 831.0,616.3 829.5,615.0 831.2,613.7 829.9,612.4 831.7,611.1 830.4,609.8 831.8,608.5 830.7,607.2 832.2,605.9 830.8,604.6 832.5,603.3 831.1,602.0 833.7,600.7 832.6,599.4 834.3,598.1 832.8,596.8 834.6,595.5 833.3,594.1 835.1,592.8 833.7,591.5 834.9,590.2 833.7,588.9 835.5,587.6 834.1,586.3 835.8,585.0 834.5,583.7 836.3,582.4 835.0,581.0 836.6,579.7 835.3,578.4 836.9,577.1 835.8,575.8 837.4,574.5 836.2,573.2 837.6,571.9 836.5,570.6 838.0,569.3 836.7,568.0 838.3,566.7 836.9,565.4 839.0,564.1 837.6,562.8 839.5,561.5 838.1,560.2 839.7,558.9 838.3,557.6 839.9,556.3 838.5,555.0 840.1,553.8 838.8,552.5 840.5,551.2 839.1,549.9 840.7,548.6 839.5,547.3 841.1,546.0 838.5,544.7 840.1,543.4 838.8,542.1 840.4,540.8 839.0,539.5 840.6,538.2 839.5,536.9 841.1,535.6 839.6,534.3 841.3,533.0 839.8,531.7 841.6,530.4 840.2,529.1 841.6,527.8 840.4,526.5 841.9,525.2 840.4,523.9 842.8,522.6 841.5,521.3 843.2,520.0 841.8,518.7 843.3,517.4 842.1,516.1 843.5,514.8 842.0,513.5 843.7,512.2 842.2,510.9 843.8,509.6 842.4,508.3 844.1,507.0 842.6,505.7 844.2,504.4 842.9,503.1 844.3,501.8 843.0,500.5 843.3,499.2 842.1,497.8 843.6,496.5 842.2,495.2 843.7,493.9 842.4,492.6 843.9,491.3 842.6,490.0 844.2,488.7 842.8,487.4 844.3,486.1 843.0,484.8 844.4,483.5 843.3,482.2 844.7,480.9 843.4,479.6 844.8,478.3 845.2,477.0 846.6,475.7 845.3,474.4 846.7,473.1 845.6,471.8 846.9,470.5 845.6,469.2 847.1,467.9 845.9,466.6 847.3,465.3 846.0,464.0 847.3,462.7 846.4,461.4 847.2,460.1 846.1,458.8 847.5,457.5 846.3,456.2 847.5,454.9 846.5,453.6 847.8,452.3 846.8,451.0 848.0,449.7 846.8,448.4 848.0,447.1 847.0,445.8 848.2,444.5 847.0,443.2 848.2,441.9 847.3,440.6 848.4,439.3 847.4,438.0 848.5,436.7 847.6,435.4 848.8,434.1 847.8,432.8 849.0,431.5 848.4,430.2 849.6,428.9 848.6,427.6 849.8,426.3 848.7,425.0 849.8,423.7 849.0,422.4 850.0,421.1 849.2,419.8 850.2,418.5 849.4,417.2 850.4,415.9 849.5,414.6 850.5,413.3 849.6,412.0 850.7,410.7 849.9,409.4 850.9,408.1 850.3,406.9 850.7,405.6 850.0,404.3 850.9,403.0 850.3,401.7 851.2,400.4 850.7,399.1 851.5,397.9 851.0,396.6 852.4,395.3 851.9,394.0 852.8,392.7 852.1,391.4 853.0,390.1 852.5,388.9 853.3,387.6 852.7,386.3 853.6,385.0 853.1,383.7 853.9,382.4 853.2,381.1 853.3,379.9 853.5,378.6 853.6,377.3 853.8,376.0 853.0,429.0 851.3,533.0 849.6,637.0 849.6,638.3 849.7,639.6 849.7,640.9 849.8,642.3 849.8,643.6 849.9,644.9 849.9,646.2 850.0,647.5 850.2,648.8 851.0,650.1 850.3,651.5 851.1,652.8 850.4,654.1 851.2,655.4 850.5,656.7 851.2,658.0 850.5,659.3 851.3,660.7 850.7,662.0 850.5,663.3 849.8,664.6 850.6,665.9 850.0,667.2 850.7,668.5 850.1,669.9 850.8,671.2 850.1,672.5 850.9,673.8 850.3,675.1 851.0,676.4 850.3,677.7 851.1,679.1 850.4,680.4 851.2,681.7 850.6,683.0 851.5,681.7 850.9,680.4 851.8,679.1 851.3,677.9 852.2,676.6 851.5,675.3 852.6,674.0 851.9,672.7 852.9,671.4 852.2,670.1 853.4,668.9 852.6,667.6 853.7,666.3 852.9,665.0 854.1,663.7 853.4,662.4 854.9,661.1 853.8,659.9 855.3,658.6 854.2,657.3 855.7,656.0 854.4,654.7 856.1,653.4 854.9,652.1 856.4,650.9 855.1,649.6 856.7,648.3 856.5,642.7 857.1,650.1 857.7,634.7 858.2,639.4 858.8,627.6 859.4,632.2 860.0,618.8 860.5,625.0 861.1,614.2 862.1,616.0 861.0,614.7 862.5,613.4 861.2,612.2 863.0,610.9 861.6,609.6 863.4,608.3 861.9,607.1 863.8,605.8 863.7,604.5 865.4,603.2 864.0,601.9 865.7,600.7 864.5,599.4 866.1,598.1 864.8,596.8 866.6,595.6 865.3,594.3 866.9,593.0 865.5,591.7 867.3,590.4 866.1,589.2 867.8,587.9 866.4,586.6 868.1,585.3 866.8,584.1 868.6,582.8 867.1,581.5 868.7,580.2 867.5,578.9 869.1,577.6 867.5,576.3 869.3,575.0 867.9,573.6 869.6,572.3 868.3,571.0 869.9,569.7 868.7,568.4 870.3,567.1 868.9,565.8 870.7,564.5 869.4,563.2 870.9,561.9 869.6,560.5 871.2,559.2 869.8,557.9 871.6,556.6 868.5,555.3 869.9,554.0 868.8,552.7 870.4,551.4 869.0,550.1 870.6,548.8 869.2,547.6 870.9,546.3 869.4,545.0 871.1,543.7 869.7,542.4 871.3,541.1 869.9,539.8 871.6,538.5 870.2,537.2 871.9,535.9 870.7,534.7 872.3,533.4 870.9,532.1 872.5,530.8 871.2,529.5 872.7,528.2 873.2,526.9 874.7,525.6 873.6,524.3 875.1,523.1 873.8,521.8 875.4,520.5 874.0,519.2 875.8,517.9 874.2,516.6 876.0,515.3 874.5,514.0 876.1,512.7 874.8,511.4 876.3,510.2 875.0,508.9 876.6,507.6 875.4,506.3 877.1,505.0 875.7,503.7 877.2,502.4 875.9,501.1 877.5,499.8 876.6,498.5 878.2,497.1 876.7,495.8 878.4,494.5 877.1,493.2 878.5,491.9 877.4,490.6 878.8,489.3 877.6,488.0 879.0,486.7 877.9,485.4 879.4,484.0 878.0,482.7 879.5,481.4 878.3,480.1 879.7,478.8 878.4,477.5 880.0,476.2 878.8,474.9 878.3,473.6 877.1,472.3 878.4,471.0 877.3,469.6 878.6,468.3 877.5,467.0 878.9,465.7 877.7,464.4 880.0,463.1 878.8,461.8 880.3,460.5 879.0,459.2 880.4,457.9 879.4,456.5 880.6,455.2 879.6,453.9 880.9,452.6 879.8,451.3 881.1,450.0 879.5,448.7 880.7,447.4 879.7,446.1 880.9,444.8 880.0,443.5 881.2,442.1 880.2,440.8 881.6,439.5 880.4,438.2 881.8,436.9 880.8,435.6 882.1,434.3 880.9,433.0 882.8,431.7 881.8,430.4 882.9,429.0 882.0,427.7 883.4,426.4 882.2,425.1 883.5,423.8 882.4,422.5 883.7,421.2 882.7,419.9 884.0,418.6 883.0,417.3 884.4,416.0 883.3,414.6 884.5,413.3 883.4,412.0 884.7,410.7 883.6,409.4 885.0,408.1 883.9,406.8 885.3,405.5 884.1,404.2 885.5,402.9 884.5,401.5 885.7,400.2 884.7,398.9 886.0,397.6 884.9,396.3 885.7,395.0 884.7,393.7 885.9,392.4 884.9,391.1 886.1,389.8 885.2,388.5 886.5,387.2 885.6,385.9 886.7,384.6 885.8,383.3 887.8,382.0 886.7,380.7 888.0,379.4 887.1,378.1 888.2,376.9 887.3,375.6 888.4,374.3 887.6,373.0 888.7,371.7 887.8,370.4 888.8,369.1 888.0,367.8 889.2,366.5 888.4,365.2 889.4,363.9 888.6,362.6 889.7,361.3 888.9,360.0 889.9,358.7 889.0,357.4 890.1,356.1 889.2,354.8 890.4,353.5 889.5,352.2 890.5,350.9 889.7,349.6 890.7,348.3 889.9,347.0 891.0,345.7 890.2,344.4 891.2,343.1 890.3,341.8 891.3,340.5 890.5,339.2 891.6,337.9 890.7,336.6 891.7,335.3 890.9,334.0 891.9,332.7 891.0,331.4 892.0,330.1 891.2,328.8 892.3,327.5 891.6,326.2 892.6,324.9 891.7,323.6 892.9,322.3 892.2,321.0 893.2,319.7 892.4,318.4 893.5,317.1 892.5,315.8 893.6,314.5 892.8,313.2 893.9,311.9 893.0,310.6 893.9,309.3 892.9,308.0 894.0,306.7 893.1,305.4 894.1,304.1 893.3,302.8 894.2,301.5 893.5,300.2 894.4,298.9 893.5,297.6 894.6,296.3 893.8,295.0 894.8,293.7 893.8,292.3 894.9,291.0 894.1,289.7 895.0,288.4 894.2,287.1 895.2,285.8 894.3,284.5 895.3,283.2 895.1,281.9 896.1,280.6 895.3,279.3 896.3,278.0 895.5,276.7 896.4,275.4 895.5,274.0 896.5,272.7 895.8,271.4 896.6,270.1 895.9,268.8 896.8,267.4 896.0,266.1 897.0,264.8 896.2,263.5 897.1,262.1 896.3,260.8 896.4,259.5 895.7,258.2 896.5,256.9 895.8,255.5 896.7,254.2 896.0,252.9 896.9,251.6 896.3,250.2 897.0,248.9 896.5,247.6 897.3,246.3 896.7,245.0 897.5,243.6 896.9,242.3 897.6,241.0 897.0,239.7 897.8,238.4 897.3,237.1 898.0,235.8 897.4,234.5 898.3,233.2 897.6,231.9 898.5,230.6 897.8,229.3 898.7,228.0 898.1,226.7 898.9,225.4 898.4,224.1 899.2,222.8 898.5,221.5 899.4,220.2 898.7,218.9 899.6,217.6 898.9,216.3 899.8,215.0 899.1,213.7 899.9,212.4 899.3,211.1 900.2,209.8 899.6,208.5 900.4,207.2 899.8,205.9 900.6,204.6 900.0,203.3 900.9,202.0 900.3,200.7 901.0,199.4 900.4,198.1 901.1,196.8 900.6,195.4 901.4,194.1 900.8,192.8 901.5,191.5 900.9,190.2 901.7,188.9 900.5,187.6 901.3,186.3 900.6,185.0 901.4,183.7 900.8,182.3 901.6,181.0 901.0,179.7 901.7,178.4 901.1,177.1 901.9,175.8 901.3,174.5 902.3,173.2 902.4,171.9 902.5,170.6 902.6,169.2 902.6,167.9 902.7,166.6 902.8,165.3 902.9,164.0 904.4,165.0 902.0,241.0 898.9,363.0 896.3,464.0 893.9,602.0 893.9,603.3 893.9,604.6 893.9,605.9 893.8,607.2 893.8,608.5 893.8,609.9 893.8,611.2 893.8,612.5 893.8,613.8 893.8,615.1 893.8,616.4 893.7,617.7 893.7,619.0 893.7,620.3 893.7,621.6 893.7,622.9 893.7,624.2 893.5,625.6 892.8,626.9 893.5,628.2 892.7,629.5 893.4,630.8 892.7,632.1 893.9,633.4 893.2,634.7 893.9,636.0 893.2,637.3 893.8,638.6 893.2,640.0 893.9,641.3 893.2,642.6 894.2,643.9 893.5,645.2 894.2,646.5 893.5,647.8 894.2,649.1 893.4,650.4 894.1,651.7 893.4,653.0 894.1,654.4 893.4,655.7 894.1,657.0 893.4,658.3 894.1,659.6 893.4,660.9 894.1,662.2 893.3,663.5 894.0,664.8 893.3,666.1 894.0,667.4 893.2,668.8 894.0,670.1 893.3,671.4 894.0,672.7 893.4,674.0 894.0,675.3 893.3,676.6 894.0,677.9 893.2,679.2 894.0,680.5 893.1,681.8 893.7,683.1 892.9,684.5 893.7,685.8 893.0,687.1 893.7,688.4 892.9,689.7 893.0,691.0 893.6,689.3 894.2,689.0 894.9,680.0 895.5,690.6 896.1,681.0 896.8,686.4 897.4,677.0 898.0,684.5 898.6,675.5 899.2,683.4 899.8,673.8 900.3,684.5 900.9,672.2 901.5,679.8 902.1,671.3 902.7,679.0 903.2,669.0 903.8,679.6 904.4,666.6 905.0,674.7 905.6,665.9 906.2,672.4 906.8,664.0 907.4,671.6 908.0,661.2 908.6,673.6 909.2,661.2 909.8,667.6 910.4,656.0 911.0,666.7 911.6,657.3 912.2,668.1 912.8,655.0 913.4,666.8 914.0,651.0 914.6,666.4 915.2,654.1 915.8,660.4 916.4,652.2 917.0,656.0" fill="none" stroke="#3333ff" stroke-width="5.1" stroke-linejoin="round" stroke-linecap="round"/>

<g stroke="#000" stroke-width="2" fill="none" stroke-linecap="butt" stroke-linejoin="miter">
<polyline points="940,123 953.2,123 953.2,652.2 667.1,957.8 10.3,809.9"/>
<line x1="940" y1="389.8" x2="953.2" y2="389.8"/>
<line x1="908.7" y1="698.6" x2="892.2" y2="693.6"/>
<line x1="837.8" y1="774.2" x2="821.3" y2="769.5"/>
<line x1="766.9" y1="850.4" x2="749.2" y2="844.6"/>
<line x1="688.2" y1="934.6" x2="671.4" y2="928.9"/>
<line x1="36.8" y1="815.7" x2="49.7" y2="801.9"/>
<line x1="194.8" y1="850.2" x2="208.5" y2="837"/>
<line x1="322.5" y1="879.3" x2="336" y2="866.3"/>
<line x1="467.2" y1="912.4" x2="480" y2="899.3"/>
<line x1="639.9" y1="951" x2="653.3" y2="937.8"/>
</g>


<g font-size="29">
<text x="961" y="135">100</text>
<text x="958" y="400">50</text>
<text x="958" y="656">0</text>
<text x="919" y="711">0</text>
<text x="843" y="788.5">&#8722;10</text>
<text x="769.5" y="864">&#8722;20</text>
<text x="698" y="946.5">&#8722;30</text>
<text x="-1" y="845.5">223</text>
<text x="158" y="880.5">224</text>
<text x="276.5" y="905">225</text>
<text x="430.5" y="945">226</text>
<text x="604" y="984">228</text>
<text transform="translate(172.2,926.5) rotate(11.2)" font-size="28.6">Ra (atomic mass)</text>
<text transform="translate(1038,474) rotate(-90)">Counts (a.u.)</text>
<text transform="translate(807.4,947.3) rotate(-48.4)">Wavenumber (cm<tspan dy="-11" font-size="19.5">&#8722;1</tspan><tspan dy="11">)</tspan></text>
</g>

<g>
<text x="230.2" y="14.399999999999999" font-size="16.5" textLength="32" lengthAdjust="spacingAndGlyphs">223</text>
<text x="262.7" y="23.4" font-size="27" textLength="48.7" lengthAdjust="spacingAndGlyphs">RaF</text>
<text x="188.5" y="56" font-size="27" font-style="italic">T</text>
<text x="204.20000000000002" y="64.8" font-size="18" textLength="27" lengthAdjust="spacingAndGlyphs">1/2</text>
<text transform="translate(240.0,57) scale(1,0.8)" font-size="27">=</text>
<text x="263.2" y="56" font-size="26.5" textLength="76.3" lengthAdjust="spacing">11.4 d</text>
<text x="390.1" y="30.9" font-size="16.5" textLength="32" lengthAdjust="spacingAndGlyphs">224</text>
<text x="422.8" y="39.9" font-size="27" textLength="48.7" lengthAdjust="spacingAndGlyphs">RaF</text>
<text x="349.2" y="73.6" font-size="27" font-style="italic">T</text>
<text x="364.9" y="82.39999999999999" font-size="18" textLength="27" lengthAdjust="spacingAndGlyphs">1/2</text>
<text transform="translate(400.7,74.6) scale(1,0.8)" font-size="27">=</text>
<text x="424" y="73.6" font-size="26.5" textLength="61.5" lengthAdjust="spacing">3.6 d</text>
<text x="537.8" y="48.3" font-size="16.5" textLength="32" lengthAdjust="spacingAndGlyphs">225</text>
<text x="570" y="57.3" font-size="27" textLength="48.7" lengthAdjust="spacingAndGlyphs">RaF</text>
<text x="494.59999999999997" y="90.2" font-size="27" font-style="italic">T</text>
<text x="510.29999999999995" y="99.0" font-size="18" textLength="27" lengthAdjust="spacingAndGlyphs">1/2</text>
<text transform="translate(546.1,91.2) scale(1,0.8)" font-size="27">=</text>
<text x="568.4" y="90.2" font-size="26.5" textLength="76.4" lengthAdjust="spacing">14.9 d</text>
<text x="689.2" y="78.1" font-size="16.5" textLength="32" lengthAdjust="spacingAndGlyphs">226</text>
<text x="720.8" y="87.1" font-size="27" textLength="48.7" lengthAdjust="spacingAndGlyphs">RaF</text>
<text x="645.5" y="119.5" font-size="27" font-style="italic">T</text>
<text x="661.1999999999999" y="128.3" font-size="18" textLength="27" lengthAdjust="spacingAndGlyphs">1/2</text>
<text transform="translate(697.0,120.5) scale(1,0.8)" font-size="27">=</text>
<text x="720" y="119.5" font-size="26.5" textLength="88.5" lengthAdjust="spacing">1,600 y</text>
<text x="848.4" y="104.8" font-size="16.5" textLength="32" lengthAdjust="spacingAndGlyphs">228</text>
<text x="881" y="113.8" font-size="27" textLength="48.7" lengthAdjust="spacingAndGlyphs">RaF</text>
<text x="809.2" y="149.7" font-size="27" font-style="italic">T</text>
<text x="824.9" y="158.5" font-size="18" textLength="27" lengthAdjust="spacingAndGlyphs">1/2</text>
<text transform="translate(860.7,150.7) scale(1,0.8)" font-size="27">=</text>
<text x="882" y="149.7" font-size="26.5" textLength="58.5" lengthAdjust="spacing">5.7 y</text>
</g>
</svg>
</body></html>
